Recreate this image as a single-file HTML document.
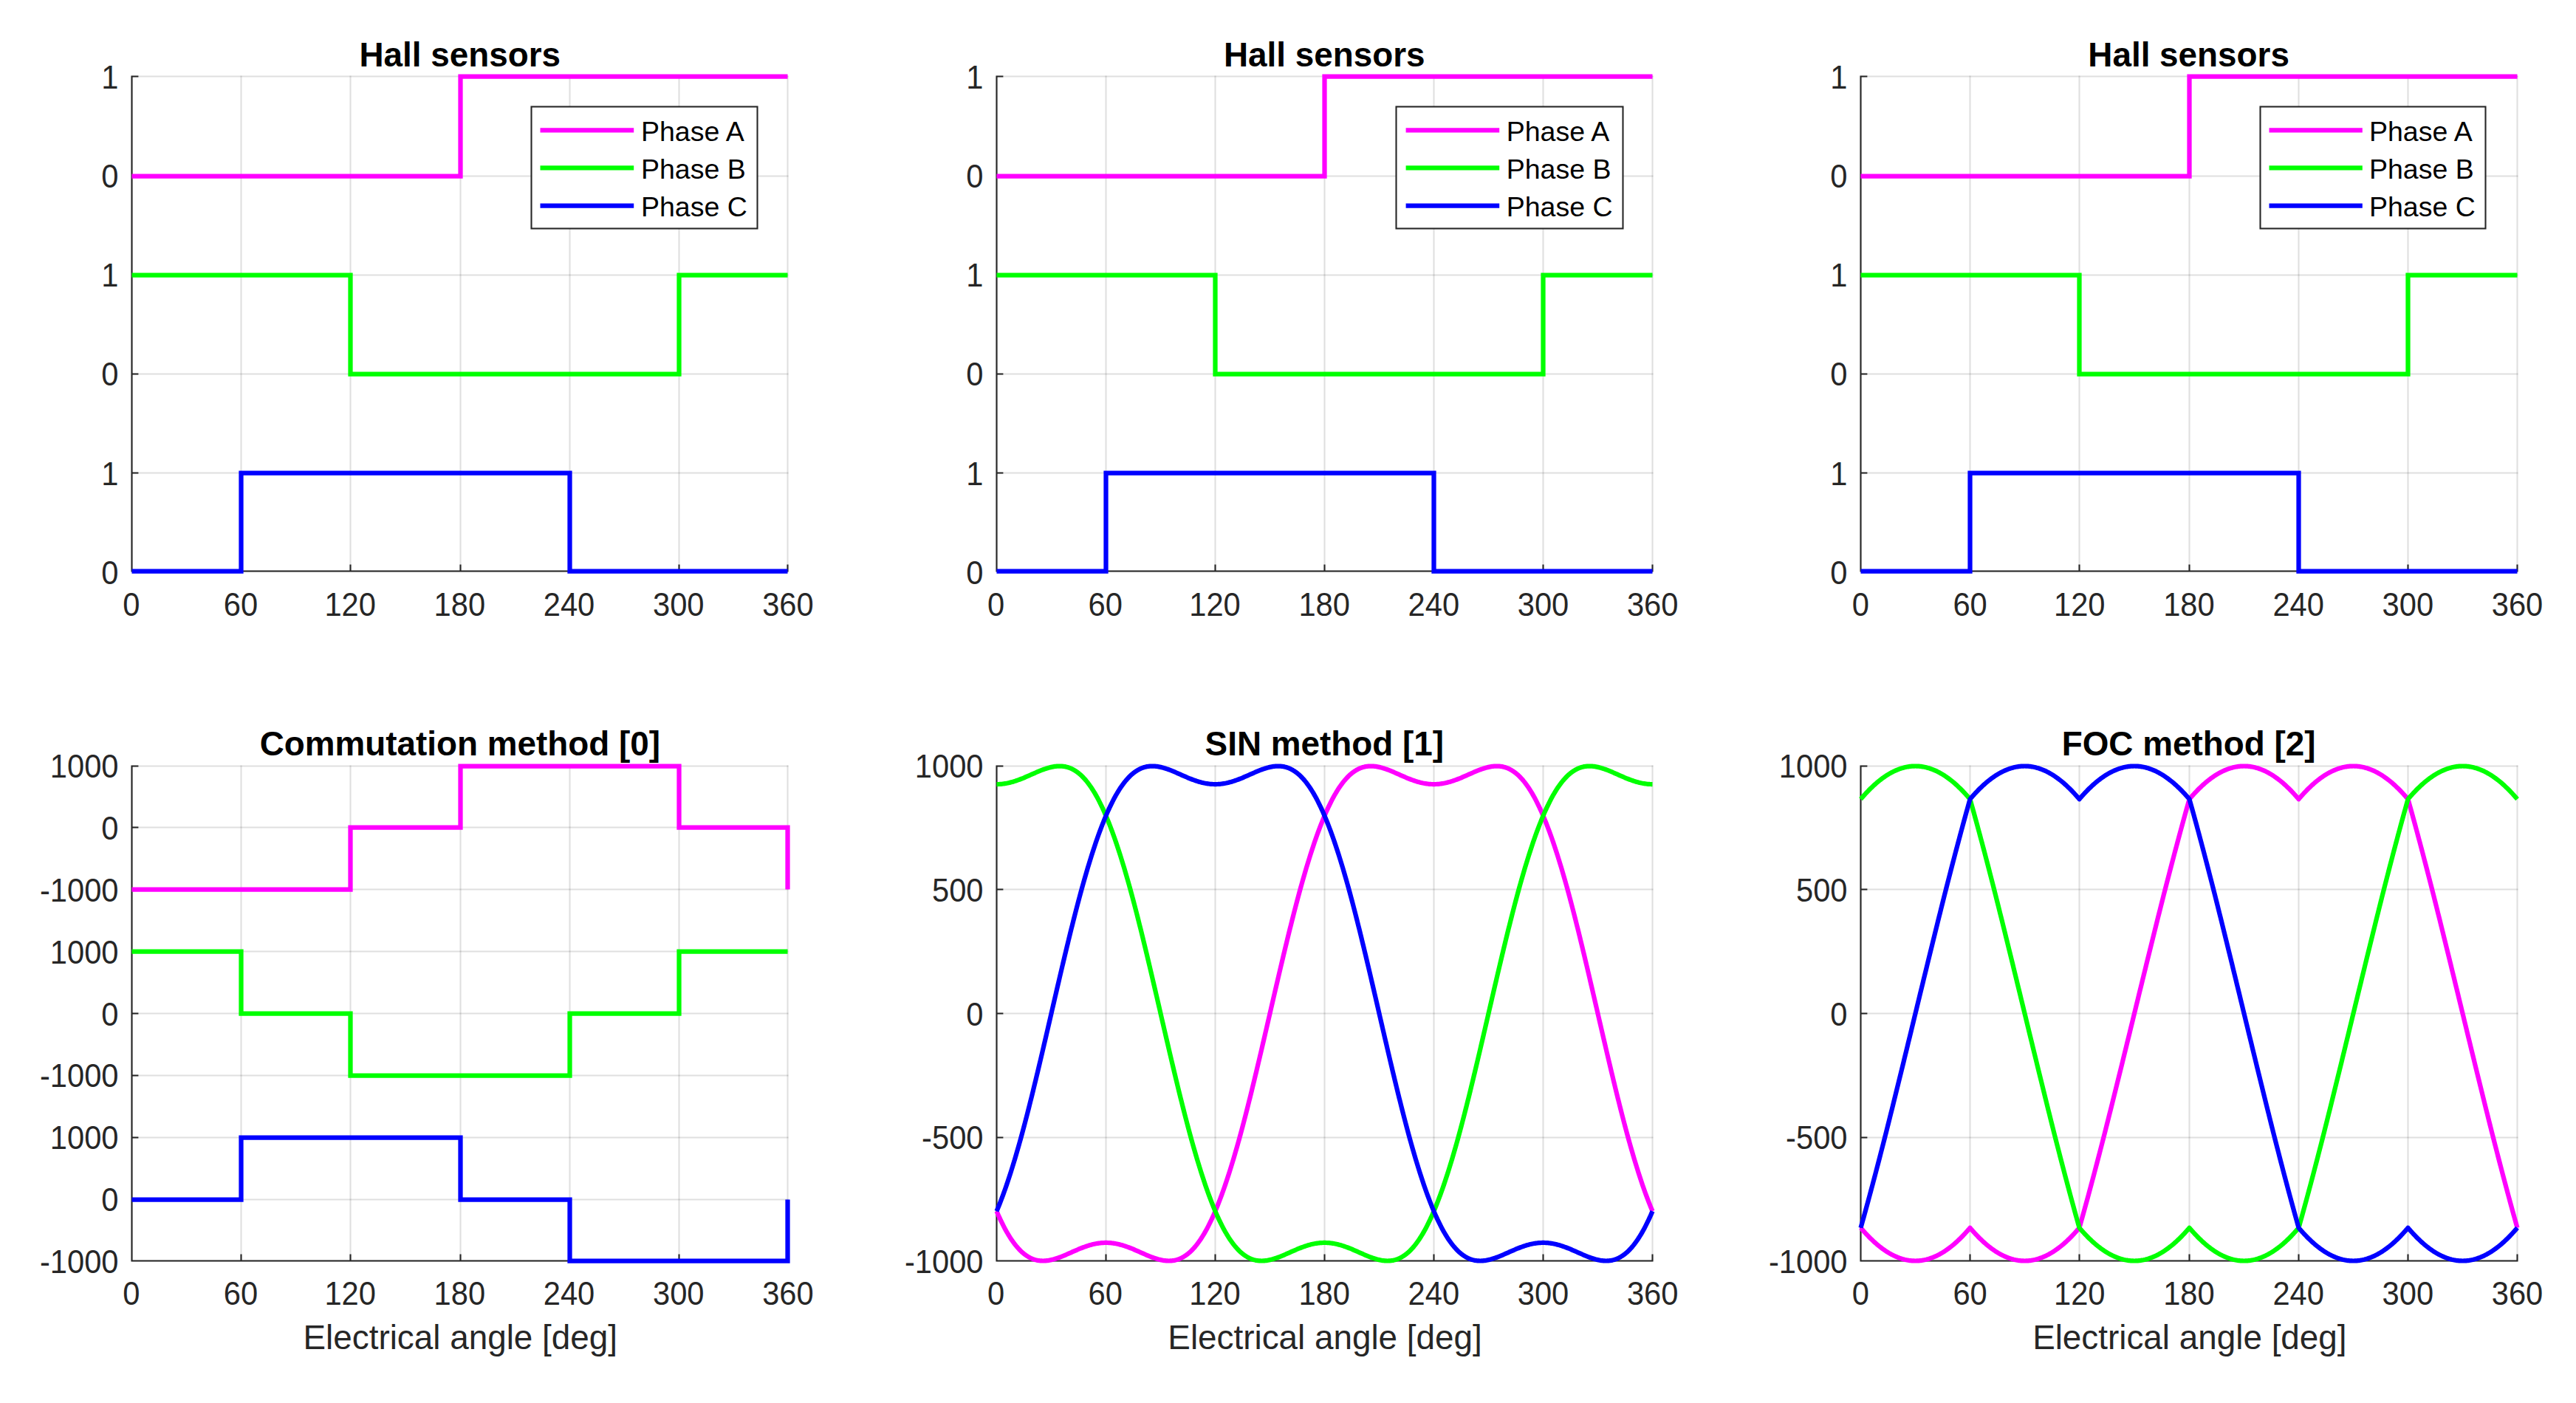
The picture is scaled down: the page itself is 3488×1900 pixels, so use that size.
<!DOCTYPE html>
<html lang="en"><head><meta charset="utf-8"><title>Hall sensors and control methods</title>
<style>html,body{margin:0;padding:0;background:#fff}body{width:3488px;height:1900px;overflow:hidden}svg{display:block}</style>
</head><body>
<svg width="3488" height="1900" viewBox="0 0 3488 1900" font-family="'Liberation Sans', sans-serif">
<rect width="3488" height="1900" fill="#fff"/>
<path d="M178.5 102.5V773.5M326.5 102.5V773.5M474.5 102.5V773.5M623.5 102.5V773.5M771.5 102.5V773.5M919.5 102.5V773.5M1066.5 102.5V773.5" stroke="#262626" stroke-opacity="0.15" stroke-width="2.08" fill="none"/>
<path d="M178.5 773.5H1067.5M178.5 640.5H1067.5M178.5 506.5H1067.5M178.5 372.5H1067.5M178.5 238.5H1067.5M178.5 103.5H1067.5" stroke="#262626" stroke-opacity="0.15" stroke-width="2.08" fill="none"/>
<path d="M178.5 102.5V773.5H1067.5M326.5 773.5V764.6M474.5 773.5V764.6M623.5 773.5V764.6M771.5 773.5V764.6M919.5 773.5V764.6M1066.5 773.5V764.6M178.5 640.5H187.4M178.5 506.5H187.4M178.5 372.5H187.4M178.5 238.5H187.4M178.5 103.5H187.4" stroke="#262626" stroke-width="2.08" fill="none" stroke-linejoin="miter"/>
<g font-size="41.67" fill="#262626">
<text transform="translate(177.8,834.17) scale(1,1.048)" text-anchor="middle">0</text>
<text transform="translate(325.98,834.17) scale(1,1.048)" text-anchor="middle">60</text>
<text transform="translate(474.17,834.17) scale(1,1.048)" text-anchor="middle">120</text>
<text transform="translate(622.35,834.17) scale(1,1.048)" text-anchor="middle">180</text>
<text transform="translate(770.53,834.17) scale(1,1.048)" text-anchor="middle">240</text>
<text transform="translate(918.72,834.17) scale(1,1.048)" text-anchor="middle">300</text>
<text transform="translate(1066.9,834.17) scale(1,1.048)" text-anchor="middle">360</text>
<text transform="translate(160.5,790.87) scale(1,1.048)" text-anchor="end">0</text>
<text transform="translate(160.5,656.67) scale(1,1.048)" text-anchor="end">1</text>
<text transform="translate(160.5,522.47) scale(1,1.048)" text-anchor="end">0</text>
<text transform="translate(160.5,388.27) scale(1,1.048)" text-anchor="end">1</text>
<text transform="translate(160.5,254.07) scale(1,1.048)" text-anchor="end">0</text>
<text transform="translate(160.5,119.87) scale(1,1.048)" text-anchor="end">1</text>
</g>
<text x="622.8" y="89.92" text-anchor="middle" font-size="45.83" font-weight="bold" fill="#000">Hall sensors</text>
<polyline points="178.5,238.5 623.5,238.5 623.5,103.5 1066.5,103.5" fill="none" stroke="#ff00ff" stroke-width="6.25" stroke-linejoin="miter" stroke-linecap="butt"/>
<polyline points="178.5,372.5 474.5,372.5 474.5,506.5 919.5,506.5 919.5,372.5 1066.5,372.5" fill="none" stroke="#00ff00" stroke-width="6.25" stroke-linejoin="miter" stroke-linecap="butt"/>
<polyline points="178.5,773.5 326.5,773.5 326.5,640.5 771.5,640.5 771.5,773.5 1066.5,773.5" fill="none" stroke="#0000ff" stroke-width="6.25" stroke-linejoin="miter" stroke-linecap="butt"/>
<rect x="719.5" y="144.5" width="306" height="165" fill="#fff" stroke="#262626" stroke-width="2.08"/>
<g font-size="37.5" fill="#000">
<path d="M731.5 176.3H858.2" stroke="#ff00ff" stroke-width="6.25"/>
<text x="868" y="191.2">Phase A</text>
<path d="M731.5 227.4H858.2" stroke="#00ff00" stroke-width="6.25"/>
<text x="868" y="242.3">Phase B</text>
<path d="M731.5 278.5H858.2" stroke="#0000ff" stroke-width="6.25"/>
<text x="868" y="293.4">Phase C</text>
</g>
<path d="M1349.5 102.5V773.5M1497.5 102.5V773.5M1645.5 102.5V773.5M1793.5 102.5V773.5M1941.5 102.5V773.5M2089.5 102.5V773.5M2237.5 102.5V773.5" stroke="#262626" stroke-opacity="0.15" stroke-width="2.08" fill="none"/>
<path d="M1349.5 773.5H2238.5M1349.5 640.5H2238.5M1349.5 506.5H2238.5M1349.5 372.5H2238.5M1349.5 238.5H2238.5M1349.5 103.5H2238.5" stroke="#262626" stroke-opacity="0.15" stroke-width="2.08" fill="none"/>
<path d="M1349.5 102.5V773.5H2238.5M1497.5 773.5V764.6M1645.5 773.5V764.6M1793.5 773.5V764.6M1941.5 773.5V764.6M2089.5 773.5V764.6M2237.5 773.5V764.6M1349.5 640.5H1358.4M1349.5 506.5H1358.4M1349.5 372.5H1358.4M1349.5 238.5H1358.4M1349.5 103.5H1358.4" stroke="#262626" stroke-width="2.08" fill="none" stroke-linejoin="miter"/>
<g font-size="41.67" fill="#262626">
<text transform="translate(1348.6,834.17) scale(1,1.048)" text-anchor="middle">0</text>
<text transform="translate(1496.78,834.17) scale(1,1.048)" text-anchor="middle">60</text>
<text transform="translate(1644.97,834.17) scale(1,1.048)" text-anchor="middle">120</text>
<text transform="translate(1793.15,834.17) scale(1,1.048)" text-anchor="middle">180</text>
<text transform="translate(1941.33,834.17) scale(1,1.048)" text-anchor="middle">240</text>
<text transform="translate(2089.52,834.17) scale(1,1.048)" text-anchor="middle">300</text>
<text transform="translate(2237.7,834.17) scale(1,1.048)" text-anchor="middle">360</text>
<text transform="translate(1331.5,790.87) scale(1,1.048)" text-anchor="end">0</text>
<text transform="translate(1331.5,656.67) scale(1,1.048)" text-anchor="end">1</text>
<text transform="translate(1331.5,522.47) scale(1,1.048)" text-anchor="end">0</text>
<text transform="translate(1331.5,388.27) scale(1,1.048)" text-anchor="end">1</text>
<text transform="translate(1331.5,254.07) scale(1,1.048)" text-anchor="end">0</text>
<text transform="translate(1331.5,119.87) scale(1,1.048)" text-anchor="end">1</text>
</g>
<text x="1793.3" y="89.92" text-anchor="middle" font-size="45.83" font-weight="bold" fill="#000">Hall sensors</text>
<polyline points="1349.5,238.5 1793.5,238.5 1793.5,103.5 2237.5,103.5" fill="none" stroke="#ff00ff" stroke-width="6.25" stroke-linejoin="miter" stroke-linecap="butt"/>
<polyline points="1349.5,372.5 1645.5,372.5 1645.5,506.5 2089.5,506.5 2089.5,372.5 2237.5,372.5" fill="none" stroke="#00ff00" stroke-width="6.25" stroke-linejoin="miter" stroke-linecap="butt"/>
<polyline points="1349.5,773.5 1497.5,773.5 1497.5,640.5 1941.5,640.5 1941.5,773.5 2237.5,773.5" fill="none" stroke="#0000ff" stroke-width="6.25" stroke-linejoin="miter" stroke-linecap="butt"/>
<rect x="1890.5" y="144.5" width="307" height="165" fill="#fff" stroke="#262626" stroke-width="2.08"/>
<g font-size="37.5" fill="#000">
<path d="M1903.6 176.3H2030.2" stroke="#ff00ff" stroke-width="6.25"/>
<text x="2039.7" y="191.2">Phase A</text>
<path d="M1903.6 227.4H2030.2" stroke="#00ff00" stroke-width="6.25"/>
<text x="2039.7" y="242.3">Phase B</text>
<path d="M1903.6 278.5H2030.2" stroke="#0000ff" stroke-width="6.25"/>
<text x="2039.7" y="293.4">Phase C</text>
</g>
<path d="M2519.5 102.5V773.5M2667.5 102.5V773.5M2815.5 102.5V773.5M2964.5 102.5V773.5M3112.5 102.5V773.5M3260.5 102.5V773.5M3408.5 102.5V773.5" stroke="#262626" stroke-opacity="0.15" stroke-width="2.08" fill="none"/>
<path d="M2519.5 773.5H3409.5M2519.5 640.5H3409.5M2519.5 506.5H3409.5M2519.5 372.5H3409.5M2519.5 238.5H3409.5M2519.5 103.5H3409.5" stroke="#262626" stroke-opacity="0.15" stroke-width="2.08" fill="none"/>
<path d="M2519.5 102.5V773.5H3409.5M2667.5 773.5V764.6M2815.5 773.5V764.6M2964.5 773.5V764.6M3112.5 773.5V764.6M3260.5 773.5V764.6M3408.5 773.5V764.6M2519.5 640.5H2528.4M2519.5 506.5H2528.4M2519.5 372.5H2528.4M2519.5 238.5H2528.4M2519.5 103.5H2528.4" stroke="#262626" stroke-width="2.08" fill="none" stroke-linejoin="miter"/>
<g font-size="41.67" fill="#262626">
<text transform="translate(2519.4,834.17) scale(1,1.048)" text-anchor="middle">0</text>
<text transform="translate(2667.58,834.17) scale(1,1.048)" text-anchor="middle">60</text>
<text transform="translate(2815.77,834.17) scale(1,1.048)" text-anchor="middle">120</text>
<text transform="translate(2963.95,834.17) scale(1,1.048)" text-anchor="middle">180</text>
<text transform="translate(3112.13,834.17) scale(1,1.048)" text-anchor="middle">240</text>
<text transform="translate(3260.32,834.17) scale(1,1.048)" text-anchor="middle">300</text>
<text transform="translate(3408.5,834.17) scale(1,1.048)" text-anchor="middle">360</text>
<text transform="translate(2501.5,790.87) scale(1,1.048)" text-anchor="end">0</text>
<text transform="translate(2501.5,656.67) scale(1,1.048)" text-anchor="end">1</text>
<text transform="translate(2501.5,522.47) scale(1,1.048)" text-anchor="end">0</text>
<text transform="translate(2501.5,388.27) scale(1,1.048)" text-anchor="end">1</text>
<text transform="translate(2501.5,254.07) scale(1,1.048)" text-anchor="end">0</text>
<text transform="translate(2501.5,119.87) scale(1,1.048)" text-anchor="end">1</text>
</g>
<text x="2963.6" y="89.92" text-anchor="middle" font-size="45.83" font-weight="bold" fill="#000">Hall sensors</text>
<polyline points="2519.5,238.5 2964.5,238.5 2964.5,103.5 3408.5,103.5" fill="none" stroke="#ff00ff" stroke-width="6.25" stroke-linejoin="miter" stroke-linecap="butt"/>
<polyline points="2519.5,372.5 2815.5,372.5 2815.5,506.5 3260.5,506.5 3260.5,372.5 3408.5,372.5" fill="none" stroke="#00ff00" stroke-width="6.25" stroke-linejoin="miter" stroke-linecap="butt"/>
<polyline points="2519.5,773.5 2667.5,773.5 2667.5,640.5 3112.5,640.5 3112.5,773.5 3408.5,773.5" fill="none" stroke="#0000ff" stroke-width="6.25" stroke-linejoin="miter" stroke-linecap="butt"/>
<rect x="3060.5" y="144.5" width="305" height="165" fill="#fff" stroke="#262626" stroke-width="2.08"/>
<g font-size="37.5" fill="#000">
<path d="M3072.5 176.3H3198.8" stroke="#ff00ff" stroke-width="6.25"/>
<text x="3208" y="191.2">Phase A</text>
<path d="M3072.5 227.4H3198.8" stroke="#00ff00" stroke-width="6.25"/>
<text x="3208" y="242.3">Phase B</text>
<path d="M3072.5 278.5H3198.8" stroke="#0000ff" stroke-width="6.25"/>
<text x="3208" y="293.4">Phase C</text>
</g>
<path d="M178.5 1036.5V1707.5M326.5 1036.5V1707.5M474.5 1036.5V1707.5M623.5 1036.5V1707.5M771.5 1036.5V1707.5M919.5 1036.5V1707.5M1066.5 1036.5V1707.5" stroke="#262626" stroke-opacity="0.15" stroke-width="2.08" fill="none"/>
<path d="M178.5 1707.5H1067.5M178.5 1624.5H1067.5M178.5 1540.5H1067.5M178.5 1456.5H1067.5M178.5 1372.5H1067.5M178.5 1288.5H1067.5M178.5 1204.5H1067.5M178.5 1120.5H1067.5M178.5 1037.5H1067.5" stroke="#262626" stroke-opacity="0.15" stroke-width="2.08" fill="none"/>
<path d="M178.5 1036.5V1707.5H1067.5M326.5 1707.5V1698.6M474.5 1707.5V1698.6M623.5 1707.5V1698.6M771.5 1707.5V1698.6M919.5 1707.5V1698.6M1066.5 1707.5V1698.6M178.5 1624.5H187.4M178.5 1540.5H187.4M178.5 1456.5H187.4M178.5 1372.5H187.4M178.5 1288.5H187.4M178.5 1204.5H187.4M178.5 1120.5H187.4M178.5 1037.5H187.4" stroke="#262626" stroke-width="2.08" fill="none" stroke-linejoin="miter"/>
<g font-size="41.67" fill="#262626">
<text transform="translate(177.8,1767.3) scale(1,1.048)" text-anchor="middle">0</text>
<text transform="translate(325.98,1767.3) scale(1,1.048)" text-anchor="middle">60</text>
<text transform="translate(474.17,1767.3) scale(1,1.048)" text-anchor="middle">120</text>
<text transform="translate(622.35,1767.3) scale(1,1.048)" text-anchor="middle">180</text>
<text transform="translate(770.53,1767.3) scale(1,1.048)" text-anchor="middle">240</text>
<text transform="translate(918.72,1767.3) scale(1,1.048)" text-anchor="middle">300</text>
<text transform="translate(1066.9,1767.3) scale(1,1.048)" text-anchor="middle">360</text>
<text transform="translate(160.5,1724) scale(1,1.048)" text-anchor="end">-1000</text>
<text transform="translate(160.5,1640.12) scale(1,1.048)" text-anchor="end">0</text>
<text transform="translate(160.5,1556.25) scale(1,1.048)" text-anchor="end">1000</text>
<text transform="translate(160.5,1472.38) scale(1,1.048)" text-anchor="end">-1000</text>
<text transform="translate(160.5,1388.5) scale(1,1.048)" text-anchor="end">0</text>
<text transform="translate(160.5,1304.62) scale(1,1.048)" text-anchor="end">1000</text>
<text transform="translate(160.5,1220.75) scale(1,1.048)" text-anchor="end">-1000</text>
<text transform="translate(160.5,1136.88) scale(1,1.048)" text-anchor="end">0</text>
<text transform="translate(160.5,1053) scale(1,1.048)" text-anchor="end">1000</text>
</g>
<text x="622.8" y="1023.05" text-anchor="middle" font-size="45.83" font-weight="bold" fill="#000">Commutation method [0]</text>
<text x="623.25" y="1827.1" text-anchor="middle" font-size="45.83" fill="#262626">Electrical angle [deg]</text>
<polyline points="178.5,1204.5 474.5,1204.5 474.5,1120.5 623.5,1120.5 623.5,1037.5 919.5,1037.5 919.5,1120.5 1066.5,1120.5 1066.5,1204.5" fill="none" stroke="#ff00ff" stroke-width="6.25" stroke-linejoin="miter" stroke-linecap="butt"/>
<polyline points="178.5,1288.5 326.5,1288.5 326.5,1372.5 474.5,1372.5 474.5,1456.5 771.5,1456.5 771.5,1372.5 919.5,1372.5 919.5,1288.5 1066.5,1288.5" fill="none" stroke="#00ff00" stroke-width="6.25" stroke-linejoin="miter" stroke-linecap="butt"/>
<polyline points="178.5,1624.5 326.5,1624.5 326.5,1540.5 623.5,1540.5 623.5,1624.5 771.5,1624.5 771.5,1707.5 1066.5,1707.5 1066.5,1624.5" fill="none" stroke="#0000ff" stroke-width="6.25" stroke-linejoin="miter" stroke-linecap="butt"/>
<path d="M1349.5 1036.5V1707.5M1497.5 1036.5V1707.5M1645.5 1036.5V1707.5M1793.5 1036.5V1707.5M1941.5 1036.5V1707.5M2089.5 1036.5V1707.5M2237.5 1036.5V1707.5" stroke="#262626" stroke-opacity="0.15" stroke-width="2.08" fill="none"/>
<path d="M1349.5 1707.5H2238.5M1349.5 1540.5H2238.5M1349.5 1372.5H2238.5M1349.5 1204.5H2238.5M1349.5 1037.5H2238.5" stroke="#262626" stroke-opacity="0.15" stroke-width="2.08" fill="none"/>
<path d="M1349.5 1036.5V1707.5H2238.5M1497.5 1707.5V1698.6M1645.5 1707.5V1698.6M1793.5 1707.5V1698.6M1941.5 1707.5V1698.6M2089.5 1707.5V1698.6M2237.5 1707.5V1698.6M1349.5 1540.5H1358.4M1349.5 1372.5H1358.4M1349.5 1204.5H1358.4M1349.5 1037.5H1358.4" stroke="#262626" stroke-width="2.08" fill="none" stroke-linejoin="miter"/>
<g font-size="41.67" fill="#262626">
<text transform="translate(1348.6,1767.3) scale(1,1.048)" text-anchor="middle">0</text>
<text transform="translate(1496.78,1767.3) scale(1,1.048)" text-anchor="middle">60</text>
<text transform="translate(1644.97,1767.3) scale(1,1.048)" text-anchor="middle">120</text>
<text transform="translate(1793.15,1767.3) scale(1,1.048)" text-anchor="middle">180</text>
<text transform="translate(1941.33,1767.3) scale(1,1.048)" text-anchor="middle">240</text>
<text transform="translate(2089.52,1767.3) scale(1,1.048)" text-anchor="middle">300</text>
<text transform="translate(2237.7,1767.3) scale(1,1.048)" text-anchor="middle">360</text>
<text transform="translate(1331.5,1724) scale(1,1.048)" text-anchor="end">-1000</text>
<text transform="translate(1331.5,1556.25) scale(1,1.048)" text-anchor="end">-500</text>
<text transform="translate(1331.5,1388.5) scale(1,1.048)" text-anchor="end">0</text>
<text transform="translate(1331.5,1220.75) scale(1,1.048)" text-anchor="end">500</text>
<text transform="translate(1331.5,1053) scale(1,1.048)" text-anchor="end">1000</text>
</g>
<text x="1793.3" y="1023.05" text-anchor="middle" font-size="45.83" font-weight="bold" fill="#000">SIN method [1]</text>
<text x="1794.05" y="1827.1" text-anchor="middle" font-size="45.83" fill="#262626">Electrical angle [deg]</text>
<polyline points="1349.5,1640.24 1350.73,1643.11 1351.97,1645.91 1353.2,1648.65 1354.43,1651.32 1355.67,1653.93 1356.9,1656.46 1358.13,1658.94 1359.37,1661.34 1360.6,1663.68 1361.83,1665.95 1363.07,1668.16 1364.3,1670.3 1365.53,1672.38 1366.77,1674.39 1368,1676.33 1369.23,1678.21 1370.47,1680.02 1371.7,1681.77 1372.93,1683.46 1374.17,1685.08 1375.4,1686.64 1376.63,1688.14 1377.87,1689.57 1379.1,1690.94 1380.33,1692.25 1381.57,1693.51 1382.8,1694.7 1384.03,1695.83 1385.27,1696.9 1386.5,1697.92 1387.73,1698.88 1388.97,1699.78 1390.2,1700.63 1391.43,1701.43 1392.67,1702.17 1393.9,1702.85 1395.13,1703.49 1396.37,1704.07 1397.6,1704.61 1398.83,1705.09 1400.07,1705.53 1401.3,1705.92 1402.53,1706.27 1403.77,1706.57 1405,1706.82 1406.23,1707.04 1407.47,1707.21 1408.7,1707.34 1409.93,1707.43 1411.17,1707.48 1412.4,1707.5 1413.63,1707.48 1414.87,1707.42 1416.1,1707.34 1417.33,1707.21 1418.57,1707.06 1419.8,1706.88 1421.03,1706.67 1422.27,1706.43 1423.5,1706.16 1424.73,1705.87 1425.97,1705.56 1427.2,1705.22 1428.43,1704.86 1429.67,1704.48 1430.9,1704.08 1432.13,1703.66 1433.37,1703.22 1434.6,1702.77 1435.83,1702.31 1437.07,1701.83 1438.3,1701.34 1439.53,1700.84 1440.77,1700.33 1442,1699.81 1443.23,1699.28 1444.47,1698.75 1445.7,1698.21 1446.93,1697.67 1448.17,1697.12 1449.4,1696.58 1450.63,1696.03 1451.87,1695.48 1453.1,1694.93 1454.33,1694.39 1455.57,1693.85 1456.8,1693.31 1458.03,1692.78 1459.27,1692.25 1460.5,1691.73 1461.73,1691.22 1462.97,1690.72 1464.2,1690.23 1465.43,1689.75 1466.67,1689.28 1467.9,1688.82 1469.13,1688.37 1470.37,1687.94 1471.6,1687.52 1472.83,1687.12 1474.07,1686.73 1475.3,1686.36 1476.53,1686.01 1477.77,1685.67 1479,1685.35 1480.23,1685.05 1481.47,1684.77 1482.7,1684.5 1483.93,1684.26 1485.17,1684.03 1486.4,1683.83 1487.63,1683.65 1488.87,1683.49 1490.1,1683.34 1491.33,1683.22 1492.57,1683.13 1493.8,1683.05 1495.03,1683 1496.27,1682.96 1497.5,1682.95 1498.73,1682.96 1499.97,1683 1501.2,1683.05 1502.43,1683.13 1503.67,1683.22 1504.9,1683.34 1506.13,1683.49 1507.37,1683.65 1508.6,1683.83 1509.83,1684.03 1511.07,1684.26 1512.3,1684.5 1513.53,1684.77 1514.77,1685.05 1516,1685.35 1517.23,1685.67 1518.47,1686.01 1519.7,1686.36 1520.93,1686.73 1522.17,1687.12 1523.4,1687.52 1524.63,1687.94 1525.87,1688.37 1527.1,1688.82 1528.33,1689.28 1529.57,1689.75 1530.8,1690.23 1532.03,1690.72 1533.27,1691.22 1534.5,1691.73 1535.73,1692.25 1536.97,1692.78 1538.2,1693.31 1539.43,1693.85 1540.67,1694.39 1541.9,1694.93 1543.13,1695.48 1544.37,1696.03 1545.6,1696.58 1546.83,1697.12 1548.07,1697.67 1549.3,1698.21 1550.53,1698.75 1551.77,1699.28 1553,1699.81 1554.23,1700.33 1555.47,1700.84 1556.7,1701.34 1557.93,1701.83 1559.17,1702.31 1560.4,1702.77 1561.63,1703.22 1562.87,1703.66 1564.1,1704.08 1565.33,1704.48 1566.57,1704.86 1567.8,1705.22 1569.03,1705.56 1570.27,1705.87 1571.5,1706.16 1572.73,1706.43 1573.97,1706.67 1575.2,1706.88 1576.43,1707.06 1577.67,1707.21 1578.9,1707.34 1580.13,1707.42 1581.37,1707.48 1582.6,1707.5 1583.83,1707.48 1585.07,1707.43 1586.3,1707.34 1587.53,1707.21 1588.77,1707.04 1590,1706.82 1591.23,1706.57 1592.47,1706.27 1593.7,1705.92 1594.93,1705.53 1596.17,1705.09 1597.4,1704.61 1598.63,1704.07 1599.87,1703.49 1601.1,1702.85 1602.33,1702.17 1603.57,1701.43 1604.8,1700.63 1606.03,1699.78 1607.27,1698.88 1608.5,1697.92 1609.73,1696.9 1610.97,1695.83 1612.2,1694.7 1613.43,1693.51 1614.67,1692.25 1615.9,1690.94 1617.13,1689.57 1618.37,1688.14 1619.6,1686.64 1620.83,1685.08 1622.07,1683.46 1623.3,1681.77 1624.53,1680.02 1625.77,1678.21 1627,1676.33 1628.23,1674.39 1629.47,1672.38 1630.7,1670.3 1631.93,1668.16 1633.17,1665.95 1634.4,1663.68 1635.63,1661.34 1636.87,1658.94 1638.1,1656.46 1639.33,1653.93 1640.57,1651.32 1641.8,1648.65 1643.03,1645.91 1644.27,1643.11 1645.5,1640.24 1646.73,1637.3 1647.97,1634.3 1649.2,1631.23 1650.43,1628.1 1651.67,1624.9 1652.9,1621.64 1654.13,1618.32 1655.37,1614.93 1656.6,1611.48 1657.83,1607.97 1659.07,1604.39 1660.3,1600.76 1661.53,1597.06 1662.77,1593.3 1664,1589.49 1665.23,1585.61 1666.47,1581.68 1667.7,1577.69 1668.93,1573.65 1670.17,1569.55 1671.4,1565.39 1672.63,1561.19 1673.87,1556.93 1675.1,1552.61 1676.33,1548.25 1677.57,1543.84 1678.8,1539.37 1680.03,1534.84 1681.27,1530.26 1682.5,1525.63 1683.73,1520.96 1684.97,1516.25 1686.2,1511.5 1687.43,1506.7 1688.67,1501.87 1689.9,1497 1691.13,1492.09 1692.37,1487.15 1693.6,1482.17 1694.83,1477.16 1696.07,1472.12 1697.3,1467.05 1698.53,1461.96 1699.77,1456.83 1701,1451.69 1702.23,1446.51 1703.47,1441.32 1704.7,1436.11 1705.93,1430.87 1707.17,1425.62 1708.4,1420.36 1709.63,1415.07 1710.87,1409.78 1712.1,1404.48 1713.33,1399.16 1714.57,1393.84 1715.8,1388.51 1717.03,1383.18 1718.27,1377.84 1719.5,1372.5 1720.73,1367.16 1721.97,1361.82 1723.2,1356.49 1724.43,1351.16 1725.67,1345.84 1726.9,1340.52 1728.13,1335.22 1729.37,1329.93 1730.6,1324.64 1731.83,1319.38 1733.07,1314.13 1734.3,1308.89 1735.53,1303.68 1736.77,1298.49 1738,1293.31 1739.23,1288.17 1740.47,1283.04 1741.7,1277.95 1742.93,1272.88 1744.17,1267.84 1745.4,1262.83 1746.63,1257.85 1747.87,1252.91 1749.1,1248 1750.33,1243.13 1751.57,1238.3 1752.8,1233.5 1754.03,1228.75 1755.27,1224.04 1756.5,1219.37 1757.73,1214.74 1758.97,1210.16 1760.2,1205.63 1761.43,1201.16 1762.67,1196.75 1763.9,1192.39 1765.13,1188.07 1766.37,1183.81 1767.6,1179.61 1768.83,1175.45 1770.07,1171.35 1771.3,1167.31 1772.53,1163.32 1773.77,1159.39 1775,1155.51 1776.23,1151.7 1777.47,1147.94 1778.7,1144.24 1779.93,1140.61 1781.17,1137.03 1782.4,1133.52 1783.63,1130.07 1784.87,1126.68 1786.1,1123.36 1787.33,1120.1 1788.57,1116.9 1789.8,1113.77 1791.03,1110.7 1792.27,1107.7 1793.5,1104.76 1794.73,1101.89 1795.97,1099.09 1797.2,1096.35 1798.43,1093.68 1799.67,1091.07 1800.9,1088.54 1802.13,1086.06 1803.37,1083.66 1804.6,1081.32 1805.83,1079.05 1807.07,1076.84 1808.3,1074.7 1809.53,1072.62 1810.77,1070.61 1812,1068.67 1813.23,1066.79 1814.47,1064.98 1815.7,1063.23 1816.93,1061.54 1818.17,1059.92 1819.4,1058.36 1820.63,1056.86 1821.87,1055.43 1823.1,1054.06 1824.33,1052.75 1825.57,1051.49 1826.8,1050.3 1828.03,1049.17 1829.27,1048.1 1830.5,1047.08 1831.73,1046.12 1832.97,1045.22 1834.2,1044.37 1835.43,1043.57 1836.67,1042.83 1837.9,1042.15 1839.13,1041.51 1840.37,1040.93 1841.6,1040.39 1842.83,1039.91 1844.07,1039.47 1845.3,1039.08 1846.53,1038.73 1847.77,1038.43 1849,1038.18 1850.23,1037.96 1851.47,1037.79 1852.7,1037.66 1853.93,1037.57 1855.17,1037.52 1856.4,1037.5 1857.63,1037.52 1858.87,1037.58 1860.1,1037.66 1861.33,1037.79 1862.57,1037.94 1863.8,1038.12 1865.03,1038.33 1866.27,1038.57 1867.5,1038.84 1868.73,1039.13 1869.97,1039.44 1871.2,1039.78 1872.43,1040.14 1873.67,1040.52 1874.9,1040.92 1876.13,1041.34 1877.37,1041.78 1878.6,1042.23 1879.83,1042.69 1881.07,1043.17 1882.3,1043.66 1883.53,1044.16 1884.77,1044.67 1886,1045.19 1887.23,1045.72 1888.47,1046.25 1889.7,1046.79 1890.93,1047.33 1892.17,1047.88 1893.4,1048.42 1894.63,1048.97 1895.87,1049.52 1897.1,1050.07 1898.33,1050.61 1899.57,1051.15 1900.8,1051.69 1902.03,1052.22 1903.27,1052.75 1904.5,1053.27 1905.73,1053.78 1906.97,1054.28 1908.2,1054.77 1909.43,1055.25 1910.67,1055.72 1911.9,1056.18 1913.13,1056.63 1914.37,1057.06 1915.6,1057.48 1916.83,1057.88 1918.07,1058.27 1919.3,1058.64 1920.53,1058.99 1921.77,1059.33 1923,1059.65 1924.23,1059.95 1925.47,1060.23 1926.7,1060.5 1927.93,1060.74 1929.17,1060.97 1930.4,1061.17 1931.63,1061.35 1932.87,1061.51 1934.1,1061.66 1935.33,1061.78 1936.57,1061.87 1937.8,1061.95 1939.03,1062 1940.27,1062.04 1941.5,1062.05 1942.73,1062.04 1943.97,1062 1945.2,1061.95 1946.43,1061.87 1947.67,1061.78 1948.9,1061.66 1950.13,1061.51 1951.37,1061.35 1952.6,1061.17 1953.83,1060.97 1955.07,1060.74 1956.3,1060.5 1957.53,1060.23 1958.77,1059.95 1960,1059.65 1961.23,1059.33 1962.47,1058.99 1963.7,1058.64 1964.93,1058.27 1966.17,1057.88 1967.4,1057.48 1968.63,1057.06 1969.87,1056.63 1971.1,1056.18 1972.33,1055.72 1973.57,1055.25 1974.8,1054.77 1976.03,1054.28 1977.27,1053.78 1978.5,1053.27 1979.73,1052.75 1980.97,1052.22 1982.2,1051.69 1983.43,1051.15 1984.67,1050.61 1985.9,1050.07 1987.13,1049.52 1988.37,1048.97 1989.6,1048.42 1990.83,1047.88 1992.07,1047.33 1993.3,1046.79 1994.53,1046.25 1995.77,1045.72 1997,1045.19 1998.23,1044.67 1999.47,1044.16 2000.7,1043.66 2001.93,1043.17 2003.17,1042.69 2004.4,1042.23 2005.63,1041.78 2006.87,1041.34 2008.1,1040.92 2009.33,1040.52 2010.57,1040.14 2011.8,1039.78 2013.03,1039.44 2014.27,1039.13 2015.5,1038.84 2016.73,1038.57 2017.97,1038.33 2019.2,1038.12 2020.43,1037.94 2021.67,1037.79 2022.9,1037.66 2024.13,1037.58 2025.37,1037.52 2026.6,1037.5 2027.83,1037.52 2029.07,1037.57 2030.3,1037.66 2031.53,1037.79 2032.77,1037.96 2034,1038.18 2035.23,1038.43 2036.47,1038.73 2037.7,1039.08 2038.93,1039.47 2040.17,1039.91 2041.4,1040.39 2042.63,1040.93 2043.87,1041.51 2045.1,1042.15 2046.33,1042.83 2047.57,1043.57 2048.8,1044.37 2050.03,1045.22 2051.27,1046.12 2052.5,1047.08 2053.73,1048.1 2054.97,1049.17 2056.2,1050.3 2057.43,1051.49 2058.67,1052.75 2059.9,1054.06 2061.13,1055.43 2062.37,1056.86 2063.6,1058.36 2064.83,1059.92 2066.07,1061.54 2067.3,1063.23 2068.53,1064.98 2069.77,1066.79 2071,1068.67 2072.23,1070.61 2073.47,1072.62 2074.7,1074.7 2075.93,1076.84 2077.17,1079.05 2078.4,1081.32 2079.63,1083.66 2080.87,1086.06 2082.1,1088.54 2083.33,1091.07 2084.57,1093.68 2085.8,1096.35 2087.03,1099.09 2088.27,1101.89 2089.5,1104.76 2090.73,1107.7 2091.97,1110.7 2093.2,1113.77 2094.43,1116.9 2095.67,1120.1 2096.9,1123.36 2098.13,1126.68 2099.37,1130.07 2100.6,1133.52 2101.83,1137.03 2103.07,1140.61 2104.3,1144.24 2105.53,1147.94 2106.77,1151.7 2108,1155.51 2109.23,1159.39 2110.47,1163.32 2111.7,1167.31 2112.93,1171.35 2114.17,1175.45 2115.4,1179.61 2116.63,1183.81 2117.87,1188.07 2119.1,1192.39 2120.33,1196.75 2121.57,1201.16 2122.8,1205.63 2124.03,1210.16 2125.27,1214.74 2126.5,1219.37 2127.73,1224.04 2128.97,1228.75 2130.2,1233.5 2131.43,1238.3 2132.67,1243.13 2133.9,1248 2135.13,1252.91 2136.37,1257.85 2137.6,1262.83 2138.83,1267.84 2140.07,1272.88 2141.3,1277.95 2142.53,1283.04 2143.77,1288.17 2145,1293.31 2146.23,1298.49 2147.47,1303.68 2148.7,1308.89 2149.93,1314.13 2151.17,1319.38 2152.4,1324.64 2153.63,1329.93 2154.87,1335.22 2156.1,1340.52 2157.33,1345.84 2158.57,1351.16 2159.8,1356.49 2161.03,1361.82 2162.27,1367.16 2163.5,1372.5 2164.73,1377.84 2165.97,1383.18 2167.2,1388.51 2168.43,1393.84 2169.67,1399.16 2170.9,1404.48 2172.13,1409.78 2173.37,1415.07 2174.6,1420.36 2175.83,1425.62 2177.07,1430.87 2178.3,1436.11 2179.53,1441.32 2180.77,1446.51 2182,1451.69 2183.23,1456.83 2184.47,1461.96 2185.7,1467.05 2186.93,1472.12 2188.17,1477.16 2189.4,1482.17 2190.63,1487.15 2191.87,1492.09 2193.1,1497 2194.33,1501.87 2195.57,1506.7 2196.8,1511.5 2198.03,1516.25 2199.27,1520.96 2200.5,1525.63 2201.73,1530.26 2202.97,1534.84 2204.2,1539.37 2205.43,1543.84 2206.67,1548.25 2207.9,1552.61 2209.13,1556.93 2210.37,1561.19 2211.6,1565.39 2212.83,1569.55 2214.07,1573.65 2215.3,1577.69 2216.53,1581.68 2217.77,1585.61 2219,1589.49 2220.23,1593.3 2221.47,1597.06 2222.7,1600.76 2223.93,1604.39 2225.17,1607.97 2226.4,1611.48 2227.63,1614.93 2228.87,1618.32 2230.1,1621.64 2231.33,1624.9 2232.57,1628.1 2233.8,1631.23 2235.03,1634.3 2236.27,1637.3 2237.5,1640.24" fill="none" stroke="#ff00ff" stroke-width="6.25" stroke-linejoin="round" stroke-linecap="butt"/>
<polyline points="1349.5,1062.05 1350.73,1062.04 1351.97,1062 1353.2,1061.95 1354.43,1061.87 1355.67,1061.78 1356.9,1061.66 1358.13,1061.51 1359.37,1061.35 1360.6,1061.17 1361.83,1060.97 1363.07,1060.74 1364.3,1060.5 1365.53,1060.23 1366.77,1059.95 1368,1059.65 1369.23,1059.33 1370.47,1058.99 1371.7,1058.64 1372.93,1058.27 1374.17,1057.88 1375.4,1057.48 1376.63,1057.06 1377.87,1056.63 1379.1,1056.18 1380.33,1055.72 1381.57,1055.25 1382.8,1054.77 1384.03,1054.28 1385.27,1053.78 1386.5,1053.27 1387.73,1052.75 1388.97,1052.22 1390.2,1051.69 1391.43,1051.15 1392.67,1050.61 1393.9,1050.07 1395.13,1049.52 1396.37,1048.97 1397.6,1048.42 1398.83,1047.88 1400.07,1047.33 1401.3,1046.79 1402.53,1046.25 1403.77,1045.72 1405,1045.19 1406.23,1044.67 1407.47,1044.16 1408.7,1043.66 1409.93,1043.17 1411.17,1042.69 1412.4,1042.23 1413.63,1041.78 1414.87,1041.34 1416.1,1040.92 1417.33,1040.52 1418.57,1040.14 1419.8,1039.78 1421.03,1039.44 1422.27,1039.13 1423.5,1038.84 1424.73,1038.57 1425.97,1038.33 1427.2,1038.12 1428.43,1037.94 1429.67,1037.79 1430.9,1037.66 1432.13,1037.58 1433.37,1037.52 1434.6,1037.5 1435.83,1037.52 1437.07,1037.57 1438.3,1037.66 1439.53,1037.79 1440.77,1037.96 1442,1038.18 1443.23,1038.43 1444.47,1038.73 1445.7,1039.08 1446.93,1039.47 1448.17,1039.91 1449.4,1040.39 1450.63,1040.93 1451.87,1041.51 1453.1,1042.15 1454.33,1042.83 1455.57,1043.57 1456.8,1044.37 1458.03,1045.22 1459.27,1046.12 1460.5,1047.08 1461.73,1048.1 1462.97,1049.17 1464.2,1050.3 1465.43,1051.49 1466.67,1052.75 1467.9,1054.06 1469.13,1055.43 1470.37,1056.86 1471.6,1058.36 1472.83,1059.92 1474.07,1061.54 1475.3,1063.23 1476.53,1064.98 1477.77,1066.79 1479,1068.67 1480.23,1070.61 1481.47,1072.62 1482.7,1074.7 1483.93,1076.84 1485.17,1079.05 1486.4,1081.32 1487.63,1083.66 1488.87,1086.06 1490.1,1088.54 1491.33,1091.07 1492.57,1093.68 1493.8,1096.35 1495.03,1099.09 1496.27,1101.89 1497.5,1104.76 1498.73,1107.7 1499.97,1110.7 1501.2,1113.77 1502.43,1116.9 1503.67,1120.1 1504.9,1123.36 1506.13,1126.68 1507.37,1130.07 1508.6,1133.52 1509.83,1137.03 1511.07,1140.61 1512.3,1144.24 1513.53,1147.94 1514.77,1151.7 1516,1155.51 1517.23,1159.39 1518.47,1163.32 1519.7,1167.31 1520.93,1171.35 1522.17,1175.45 1523.4,1179.61 1524.63,1183.81 1525.87,1188.07 1527.1,1192.39 1528.33,1196.75 1529.57,1201.16 1530.8,1205.63 1532.03,1210.16 1533.27,1214.74 1534.5,1219.37 1535.73,1224.04 1536.97,1228.75 1538.2,1233.5 1539.43,1238.3 1540.67,1243.13 1541.9,1248 1543.13,1252.91 1544.37,1257.85 1545.6,1262.83 1546.83,1267.84 1548.07,1272.88 1549.3,1277.95 1550.53,1283.04 1551.77,1288.17 1553,1293.31 1554.23,1298.49 1555.47,1303.68 1556.7,1308.89 1557.93,1314.13 1559.17,1319.38 1560.4,1324.64 1561.63,1329.93 1562.87,1335.22 1564.1,1340.52 1565.33,1345.84 1566.57,1351.16 1567.8,1356.49 1569.03,1361.82 1570.27,1367.16 1571.5,1372.5 1572.73,1377.84 1573.97,1383.18 1575.2,1388.51 1576.43,1393.84 1577.67,1399.16 1578.9,1404.48 1580.13,1409.78 1581.37,1415.07 1582.6,1420.36 1583.83,1425.62 1585.07,1430.87 1586.3,1436.11 1587.53,1441.32 1588.77,1446.51 1590,1451.69 1591.23,1456.83 1592.47,1461.96 1593.7,1467.05 1594.93,1472.12 1596.17,1477.16 1597.4,1482.17 1598.63,1487.15 1599.87,1492.09 1601.1,1497 1602.33,1501.87 1603.57,1506.7 1604.8,1511.5 1606.03,1516.25 1607.27,1520.96 1608.5,1525.63 1609.73,1530.26 1610.97,1534.84 1612.2,1539.37 1613.43,1543.84 1614.67,1548.25 1615.9,1552.61 1617.13,1556.93 1618.37,1561.19 1619.6,1565.39 1620.83,1569.55 1622.07,1573.65 1623.3,1577.69 1624.53,1581.68 1625.77,1585.61 1627,1589.49 1628.23,1593.3 1629.47,1597.06 1630.7,1600.76 1631.93,1604.39 1633.17,1607.97 1634.4,1611.48 1635.63,1614.93 1636.87,1618.32 1638.1,1621.64 1639.33,1624.9 1640.57,1628.1 1641.8,1631.23 1643.03,1634.3 1644.27,1637.3 1645.5,1640.24 1646.73,1643.11 1647.97,1645.91 1649.2,1648.65 1650.43,1651.32 1651.67,1653.93 1652.9,1656.46 1654.13,1658.94 1655.37,1661.34 1656.6,1663.68 1657.83,1665.95 1659.07,1668.16 1660.3,1670.3 1661.53,1672.38 1662.77,1674.39 1664,1676.33 1665.23,1678.21 1666.47,1680.02 1667.7,1681.77 1668.93,1683.46 1670.17,1685.08 1671.4,1686.64 1672.63,1688.14 1673.87,1689.57 1675.1,1690.94 1676.33,1692.25 1677.57,1693.51 1678.8,1694.7 1680.03,1695.83 1681.27,1696.9 1682.5,1697.92 1683.73,1698.88 1684.97,1699.78 1686.2,1700.63 1687.43,1701.43 1688.67,1702.17 1689.9,1702.85 1691.13,1703.49 1692.37,1704.07 1693.6,1704.61 1694.83,1705.09 1696.07,1705.53 1697.3,1705.92 1698.53,1706.27 1699.77,1706.57 1701,1706.82 1702.23,1707.04 1703.47,1707.21 1704.7,1707.34 1705.93,1707.43 1707.17,1707.48 1708.4,1707.5 1709.63,1707.48 1710.87,1707.42 1712.1,1707.34 1713.33,1707.21 1714.57,1707.06 1715.8,1706.88 1717.03,1706.67 1718.27,1706.43 1719.5,1706.16 1720.73,1705.87 1721.97,1705.56 1723.2,1705.22 1724.43,1704.86 1725.67,1704.48 1726.9,1704.08 1728.13,1703.66 1729.37,1703.22 1730.6,1702.77 1731.83,1702.31 1733.07,1701.83 1734.3,1701.34 1735.53,1700.84 1736.77,1700.33 1738,1699.81 1739.23,1699.28 1740.47,1698.75 1741.7,1698.21 1742.93,1697.67 1744.17,1697.12 1745.4,1696.58 1746.63,1696.03 1747.87,1695.48 1749.1,1694.93 1750.33,1694.39 1751.57,1693.85 1752.8,1693.31 1754.03,1692.78 1755.27,1692.25 1756.5,1691.73 1757.73,1691.22 1758.97,1690.72 1760.2,1690.23 1761.43,1689.75 1762.67,1689.28 1763.9,1688.82 1765.13,1688.37 1766.37,1687.94 1767.6,1687.52 1768.83,1687.12 1770.07,1686.73 1771.3,1686.36 1772.53,1686.01 1773.77,1685.67 1775,1685.35 1776.23,1685.05 1777.47,1684.77 1778.7,1684.5 1779.93,1684.26 1781.17,1684.03 1782.4,1683.83 1783.63,1683.65 1784.87,1683.49 1786.1,1683.34 1787.33,1683.22 1788.57,1683.13 1789.8,1683.05 1791.03,1683 1792.27,1682.96 1793.5,1682.95 1794.73,1682.96 1795.97,1683 1797.2,1683.05 1798.43,1683.13 1799.67,1683.22 1800.9,1683.34 1802.13,1683.49 1803.37,1683.65 1804.6,1683.83 1805.83,1684.03 1807.07,1684.26 1808.3,1684.5 1809.53,1684.77 1810.77,1685.05 1812,1685.35 1813.23,1685.67 1814.47,1686.01 1815.7,1686.36 1816.93,1686.73 1818.17,1687.12 1819.4,1687.52 1820.63,1687.94 1821.87,1688.37 1823.1,1688.82 1824.33,1689.28 1825.57,1689.75 1826.8,1690.23 1828.03,1690.72 1829.27,1691.22 1830.5,1691.73 1831.73,1692.25 1832.97,1692.78 1834.2,1693.31 1835.43,1693.85 1836.67,1694.39 1837.9,1694.93 1839.13,1695.48 1840.37,1696.03 1841.6,1696.58 1842.83,1697.12 1844.07,1697.67 1845.3,1698.21 1846.53,1698.75 1847.77,1699.28 1849,1699.81 1850.23,1700.33 1851.47,1700.84 1852.7,1701.34 1853.93,1701.83 1855.17,1702.31 1856.4,1702.77 1857.63,1703.22 1858.87,1703.66 1860.1,1704.08 1861.33,1704.48 1862.57,1704.86 1863.8,1705.22 1865.03,1705.56 1866.27,1705.87 1867.5,1706.16 1868.73,1706.43 1869.97,1706.67 1871.2,1706.88 1872.43,1707.06 1873.67,1707.21 1874.9,1707.34 1876.13,1707.42 1877.37,1707.48 1878.6,1707.5 1879.83,1707.48 1881.07,1707.43 1882.3,1707.34 1883.53,1707.21 1884.77,1707.04 1886,1706.82 1887.23,1706.57 1888.47,1706.27 1889.7,1705.92 1890.93,1705.53 1892.17,1705.09 1893.4,1704.61 1894.63,1704.07 1895.87,1703.49 1897.1,1702.85 1898.33,1702.17 1899.57,1701.43 1900.8,1700.63 1902.03,1699.78 1903.27,1698.88 1904.5,1697.92 1905.73,1696.9 1906.97,1695.83 1908.2,1694.7 1909.43,1693.51 1910.67,1692.25 1911.9,1690.94 1913.13,1689.57 1914.37,1688.14 1915.6,1686.64 1916.83,1685.08 1918.07,1683.46 1919.3,1681.77 1920.53,1680.02 1921.77,1678.21 1923,1676.33 1924.23,1674.39 1925.47,1672.38 1926.7,1670.3 1927.93,1668.16 1929.17,1665.95 1930.4,1663.68 1931.63,1661.34 1932.87,1658.94 1934.1,1656.46 1935.33,1653.93 1936.57,1651.32 1937.8,1648.65 1939.03,1645.91 1940.27,1643.11 1941.5,1640.24 1942.73,1637.3 1943.97,1634.3 1945.2,1631.23 1946.43,1628.1 1947.67,1624.9 1948.9,1621.64 1950.13,1618.32 1951.37,1614.93 1952.6,1611.48 1953.83,1607.97 1955.07,1604.39 1956.3,1600.76 1957.53,1597.06 1958.77,1593.3 1960,1589.49 1961.23,1585.61 1962.47,1581.68 1963.7,1577.69 1964.93,1573.65 1966.17,1569.55 1967.4,1565.39 1968.63,1561.19 1969.87,1556.93 1971.1,1552.61 1972.33,1548.25 1973.57,1543.84 1974.8,1539.37 1976.03,1534.84 1977.27,1530.26 1978.5,1525.63 1979.73,1520.96 1980.97,1516.25 1982.2,1511.5 1983.43,1506.7 1984.67,1501.87 1985.9,1497 1987.13,1492.09 1988.37,1487.15 1989.6,1482.17 1990.83,1477.16 1992.07,1472.12 1993.3,1467.05 1994.53,1461.96 1995.77,1456.83 1997,1451.69 1998.23,1446.51 1999.47,1441.32 2000.7,1436.11 2001.93,1430.87 2003.17,1425.62 2004.4,1420.36 2005.63,1415.07 2006.87,1409.78 2008.1,1404.48 2009.33,1399.16 2010.57,1393.84 2011.8,1388.51 2013.03,1383.18 2014.27,1377.84 2015.5,1372.5 2016.73,1367.16 2017.97,1361.82 2019.2,1356.49 2020.43,1351.16 2021.67,1345.84 2022.9,1340.52 2024.13,1335.22 2025.37,1329.93 2026.6,1324.64 2027.83,1319.38 2029.07,1314.13 2030.3,1308.89 2031.53,1303.68 2032.77,1298.49 2034,1293.31 2035.23,1288.17 2036.47,1283.04 2037.7,1277.95 2038.93,1272.88 2040.17,1267.84 2041.4,1262.83 2042.63,1257.85 2043.87,1252.91 2045.1,1248 2046.33,1243.13 2047.57,1238.3 2048.8,1233.5 2050.03,1228.75 2051.27,1224.04 2052.5,1219.37 2053.73,1214.74 2054.97,1210.16 2056.2,1205.63 2057.43,1201.16 2058.67,1196.75 2059.9,1192.39 2061.13,1188.07 2062.37,1183.81 2063.6,1179.61 2064.83,1175.45 2066.07,1171.35 2067.3,1167.31 2068.53,1163.32 2069.77,1159.39 2071,1155.51 2072.23,1151.7 2073.47,1147.94 2074.7,1144.24 2075.93,1140.61 2077.17,1137.03 2078.4,1133.52 2079.63,1130.07 2080.87,1126.68 2082.1,1123.36 2083.33,1120.1 2084.57,1116.9 2085.8,1113.77 2087.03,1110.7 2088.27,1107.7 2089.5,1104.76 2090.73,1101.89 2091.97,1099.09 2093.2,1096.35 2094.43,1093.68 2095.67,1091.07 2096.9,1088.54 2098.13,1086.06 2099.37,1083.66 2100.6,1081.32 2101.83,1079.05 2103.07,1076.84 2104.3,1074.7 2105.53,1072.62 2106.77,1070.61 2108,1068.67 2109.23,1066.79 2110.47,1064.98 2111.7,1063.23 2112.93,1061.54 2114.17,1059.92 2115.4,1058.36 2116.63,1056.86 2117.87,1055.43 2119.1,1054.06 2120.33,1052.75 2121.57,1051.49 2122.8,1050.3 2124.03,1049.17 2125.27,1048.1 2126.5,1047.08 2127.73,1046.12 2128.97,1045.22 2130.2,1044.37 2131.43,1043.57 2132.67,1042.83 2133.9,1042.15 2135.13,1041.51 2136.37,1040.93 2137.6,1040.39 2138.83,1039.91 2140.07,1039.47 2141.3,1039.08 2142.53,1038.73 2143.77,1038.43 2145,1038.18 2146.23,1037.96 2147.47,1037.79 2148.7,1037.66 2149.93,1037.57 2151.17,1037.52 2152.4,1037.5 2153.63,1037.52 2154.87,1037.58 2156.1,1037.66 2157.33,1037.79 2158.57,1037.94 2159.8,1038.12 2161.03,1038.33 2162.27,1038.57 2163.5,1038.84 2164.73,1039.13 2165.97,1039.44 2167.2,1039.78 2168.43,1040.14 2169.67,1040.52 2170.9,1040.92 2172.13,1041.34 2173.37,1041.78 2174.6,1042.23 2175.83,1042.69 2177.07,1043.17 2178.3,1043.66 2179.53,1044.16 2180.77,1044.67 2182,1045.19 2183.23,1045.72 2184.47,1046.25 2185.7,1046.79 2186.93,1047.33 2188.17,1047.88 2189.4,1048.42 2190.63,1048.97 2191.87,1049.52 2193.1,1050.07 2194.33,1050.61 2195.57,1051.15 2196.8,1051.69 2198.03,1052.22 2199.27,1052.75 2200.5,1053.27 2201.73,1053.78 2202.97,1054.28 2204.2,1054.77 2205.43,1055.25 2206.67,1055.72 2207.9,1056.18 2209.13,1056.63 2210.37,1057.06 2211.6,1057.48 2212.83,1057.88 2214.07,1058.27 2215.3,1058.64 2216.53,1058.99 2217.77,1059.33 2219,1059.65 2220.23,1059.95 2221.47,1060.23 2222.7,1060.5 2223.93,1060.74 2225.17,1060.97 2226.4,1061.17 2227.63,1061.35 2228.87,1061.51 2230.1,1061.66 2231.33,1061.78 2232.57,1061.87 2233.8,1061.95 2235.03,1062 2236.27,1062.04 2237.5,1062.05" fill="none" stroke="#00ff00" stroke-width="6.25" stroke-linejoin="round" stroke-linecap="butt"/>
<polyline points="1349.5,1640.24 1350.73,1637.3 1351.97,1634.3 1353.2,1631.23 1354.43,1628.1 1355.67,1624.9 1356.9,1621.64 1358.13,1618.32 1359.37,1614.93 1360.6,1611.48 1361.83,1607.97 1363.07,1604.39 1364.3,1600.76 1365.53,1597.06 1366.77,1593.3 1368,1589.49 1369.23,1585.61 1370.47,1581.68 1371.7,1577.69 1372.93,1573.65 1374.17,1569.55 1375.4,1565.39 1376.63,1561.19 1377.87,1556.93 1379.1,1552.61 1380.33,1548.25 1381.57,1543.84 1382.8,1539.37 1384.03,1534.84 1385.27,1530.26 1386.5,1525.63 1387.73,1520.96 1388.97,1516.25 1390.2,1511.5 1391.43,1506.7 1392.67,1501.87 1393.9,1497 1395.13,1492.09 1396.37,1487.15 1397.6,1482.17 1398.83,1477.16 1400.07,1472.12 1401.3,1467.05 1402.53,1461.96 1403.77,1456.83 1405,1451.69 1406.23,1446.51 1407.47,1441.32 1408.7,1436.11 1409.93,1430.87 1411.17,1425.62 1412.4,1420.36 1413.63,1415.07 1414.87,1409.78 1416.1,1404.48 1417.33,1399.16 1418.57,1393.84 1419.8,1388.51 1421.03,1383.18 1422.27,1377.84 1423.5,1372.5 1424.73,1367.16 1425.97,1361.82 1427.2,1356.49 1428.43,1351.16 1429.67,1345.84 1430.9,1340.52 1432.13,1335.22 1433.37,1329.93 1434.6,1324.64 1435.83,1319.38 1437.07,1314.13 1438.3,1308.89 1439.53,1303.68 1440.77,1298.49 1442,1293.31 1443.23,1288.17 1444.47,1283.04 1445.7,1277.95 1446.93,1272.88 1448.17,1267.84 1449.4,1262.83 1450.63,1257.85 1451.87,1252.91 1453.1,1248 1454.33,1243.13 1455.57,1238.3 1456.8,1233.5 1458.03,1228.75 1459.27,1224.04 1460.5,1219.37 1461.73,1214.74 1462.97,1210.16 1464.2,1205.63 1465.43,1201.16 1466.67,1196.75 1467.9,1192.39 1469.13,1188.07 1470.37,1183.81 1471.6,1179.61 1472.83,1175.45 1474.07,1171.35 1475.3,1167.31 1476.53,1163.32 1477.77,1159.39 1479,1155.51 1480.23,1151.7 1481.47,1147.94 1482.7,1144.24 1483.93,1140.61 1485.17,1137.03 1486.4,1133.52 1487.63,1130.07 1488.87,1126.68 1490.1,1123.36 1491.33,1120.1 1492.57,1116.9 1493.8,1113.77 1495.03,1110.7 1496.27,1107.7 1497.5,1104.76 1498.73,1101.89 1499.97,1099.09 1501.2,1096.35 1502.43,1093.68 1503.67,1091.07 1504.9,1088.54 1506.13,1086.06 1507.37,1083.66 1508.6,1081.32 1509.83,1079.05 1511.07,1076.84 1512.3,1074.7 1513.53,1072.62 1514.77,1070.61 1516,1068.67 1517.23,1066.79 1518.47,1064.98 1519.7,1063.23 1520.93,1061.54 1522.17,1059.92 1523.4,1058.36 1524.63,1056.86 1525.87,1055.43 1527.1,1054.06 1528.33,1052.75 1529.57,1051.49 1530.8,1050.3 1532.03,1049.17 1533.27,1048.1 1534.5,1047.08 1535.73,1046.12 1536.97,1045.22 1538.2,1044.37 1539.43,1043.57 1540.67,1042.83 1541.9,1042.15 1543.13,1041.51 1544.37,1040.93 1545.6,1040.39 1546.83,1039.91 1548.07,1039.47 1549.3,1039.08 1550.53,1038.73 1551.77,1038.43 1553,1038.18 1554.23,1037.96 1555.47,1037.79 1556.7,1037.66 1557.93,1037.57 1559.17,1037.52 1560.4,1037.5 1561.63,1037.52 1562.87,1037.58 1564.1,1037.66 1565.33,1037.79 1566.57,1037.94 1567.8,1038.12 1569.03,1038.33 1570.27,1038.57 1571.5,1038.84 1572.73,1039.13 1573.97,1039.44 1575.2,1039.78 1576.43,1040.14 1577.67,1040.52 1578.9,1040.92 1580.13,1041.34 1581.37,1041.78 1582.6,1042.23 1583.83,1042.69 1585.07,1043.17 1586.3,1043.66 1587.53,1044.16 1588.77,1044.67 1590,1045.19 1591.23,1045.72 1592.47,1046.25 1593.7,1046.79 1594.93,1047.33 1596.17,1047.88 1597.4,1048.42 1598.63,1048.97 1599.87,1049.52 1601.1,1050.07 1602.33,1050.61 1603.57,1051.15 1604.8,1051.69 1606.03,1052.22 1607.27,1052.75 1608.5,1053.27 1609.73,1053.78 1610.97,1054.28 1612.2,1054.77 1613.43,1055.25 1614.67,1055.72 1615.9,1056.18 1617.13,1056.63 1618.37,1057.06 1619.6,1057.48 1620.83,1057.88 1622.07,1058.27 1623.3,1058.64 1624.53,1058.99 1625.77,1059.33 1627,1059.65 1628.23,1059.95 1629.47,1060.23 1630.7,1060.5 1631.93,1060.74 1633.17,1060.97 1634.4,1061.17 1635.63,1061.35 1636.87,1061.51 1638.1,1061.66 1639.33,1061.78 1640.57,1061.87 1641.8,1061.95 1643.03,1062 1644.27,1062.04 1645.5,1062.05 1646.73,1062.04 1647.97,1062 1649.2,1061.95 1650.43,1061.87 1651.67,1061.78 1652.9,1061.66 1654.13,1061.51 1655.37,1061.35 1656.6,1061.17 1657.83,1060.97 1659.07,1060.74 1660.3,1060.5 1661.53,1060.23 1662.77,1059.95 1664,1059.65 1665.23,1059.33 1666.47,1058.99 1667.7,1058.64 1668.93,1058.27 1670.17,1057.88 1671.4,1057.48 1672.63,1057.06 1673.87,1056.63 1675.1,1056.18 1676.33,1055.72 1677.57,1055.25 1678.8,1054.77 1680.03,1054.28 1681.27,1053.78 1682.5,1053.27 1683.73,1052.75 1684.97,1052.22 1686.2,1051.69 1687.43,1051.15 1688.67,1050.61 1689.9,1050.07 1691.13,1049.52 1692.37,1048.97 1693.6,1048.42 1694.83,1047.88 1696.07,1047.33 1697.3,1046.79 1698.53,1046.25 1699.77,1045.72 1701,1045.19 1702.23,1044.67 1703.47,1044.16 1704.7,1043.66 1705.93,1043.17 1707.17,1042.69 1708.4,1042.23 1709.63,1041.78 1710.87,1041.34 1712.1,1040.92 1713.33,1040.52 1714.57,1040.14 1715.8,1039.78 1717.03,1039.44 1718.27,1039.13 1719.5,1038.84 1720.73,1038.57 1721.97,1038.33 1723.2,1038.12 1724.43,1037.94 1725.67,1037.79 1726.9,1037.66 1728.13,1037.58 1729.37,1037.52 1730.6,1037.5 1731.83,1037.52 1733.07,1037.57 1734.3,1037.66 1735.53,1037.79 1736.77,1037.96 1738,1038.18 1739.23,1038.43 1740.47,1038.73 1741.7,1039.08 1742.93,1039.47 1744.17,1039.91 1745.4,1040.39 1746.63,1040.93 1747.87,1041.51 1749.1,1042.15 1750.33,1042.83 1751.57,1043.57 1752.8,1044.37 1754.03,1045.22 1755.27,1046.12 1756.5,1047.08 1757.73,1048.1 1758.97,1049.17 1760.2,1050.3 1761.43,1051.49 1762.67,1052.75 1763.9,1054.06 1765.13,1055.43 1766.37,1056.86 1767.6,1058.36 1768.83,1059.92 1770.07,1061.54 1771.3,1063.23 1772.53,1064.98 1773.77,1066.79 1775,1068.67 1776.23,1070.61 1777.47,1072.62 1778.7,1074.7 1779.93,1076.84 1781.17,1079.05 1782.4,1081.32 1783.63,1083.66 1784.87,1086.06 1786.1,1088.54 1787.33,1091.07 1788.57,1093.68 1789.8,1096.35 1791.03,1099.09 1792.27,1101.89 1793.5,1104.76 1794.73,1107.7 1795.97,1110.7 1797.2,1113.77 1798.43,1116.9 1799.67,1120.1 1800.9,1123.36 1802.13,1126.68 1803.37,1130.07 1804.6,1133.52 1805.83,1137.03 1807.07,1140.61 1808.3,1144.24 1809.53,1147.94 1810.77,1151.7 1812,1155.51 1813.23,1159.39 1814.47,1163.32 1815.7,1167.31 1816.93,1171.35 1818.17,1175.45 1819.4,1179.61 1820.63,1183.81 1821.87,1188.07 1823.1,1192.39 1824.33,1196.75 1825.57,1201.16 1826.8,1205.63 1828.03,1210.16 1829.27,1214.74 1830.5,1219.37 1831.73,1224.04 1832.97,1228.75 1834.2,1233.5 1835.43,1238.3 1836.67,1243.13 1837.9,1248 1839.13,1252.91 1840.37,1257.85 1841.6,1262.83 1842.83,1267.84 1844.07,1272.88 1845.3,1277.95 1846.53,1283.04 1847.77,1288.17 1849,1293.31 1850.23,1298.49 1851.47,1303.68 1852.7,1308.89 1853.93,1314.13 1855.17,1319.38 1856.4,1324.64 1857.63,1329.93 1858.87,1335.22 1860.1,1340.52 1861.33,1345.84 1862.57,1351.16 1863.8,1356.49 1865.03,1361.82 1866.27,1367.16 1867.5,1372.5 1868.73,1377.84 1869.97,1383.18 1871.2,1388.51 1872.43,1393.84 1873.67,1399.16 1874.9,1404.48 1876.13,1409.78 1877.37,1415.07 1878.6,1420.36 1879.83,1425.62 1881.07,1430.87 1882.3,1436.11 1883.53,1441.32 1884.77,1446.51 1886,1451.69 1887.23,1456.83 1888.47,1461.96 1889.7,1467.05 1890.93,1472.12 1892.17,1477.16 1893.4,1482.17 1894.63,1487.15 1895.87,1492.09 1897.1,1497 1898.33,1501.87 1899.57,1506.7 1900.8,1511.5 1902.03,1516.25 1903.27,1520.96 1904.5,1525.63 1905.73,1530.26 1906.97,1534.84 1908.2,1539.37 1909.43,1543.84 1910.67,1548.25 1911.9,1552.61 1913.13,1556.93 1914.37,1561.19 1915.6,1565.39 1916.83,1569.55 1918.07,1573.65 1919.3,1577.69 1920.53,1581.68 1921.77,1585.61 1923,1589.49 1924.23,1593.3 1925.47,1597.06 1926.7,1600.76 1927.93,1604.39 1929.17,1607.97 1930.4,1611.48 1931.63,1614.93 1932.87,1618.32 1934.1,1621.64 1935.33,1624.9 1936.57,1628.1 1937.8,1631.23 1939.03,1634.3 1940.27,1637.3 1941.5,1640.24 1942.73,1643.11 1943.97,1645.91 1945.2,1648.65 1946.43,1651.32 1947.67,1653.93 1948.9,1656.46 1950.13,1658.94 1951.37,1661.34 1952.6,1663.68 1953.83,1665.95 1955.07,1668.16 1956.3,1670.3 1957.53,1672.38 1958.77,1674.39 1960,1676.33 1961.23,1678.21 1962.47,1680.02 1963.7,1681.77 1964.93,1683.46 1966.17,1685.08 1967.4,1686.64 1968.63,1688.14 1969.87,1689.57 1971.1,1690.94 1972.33,1692.25 1973.57,1693.51 1974.8,1694.7 1976.03,1695.83 1977.27,1696.9 1978.5,1697.92 1979.73,1698.88 1980.97,1699.78 1982.2,1700.63 1983.43,1701.43 1984.67,1702.17 1985.9,1702.85 1987.13,1703.49 1988.37,1704.07 1989.6,1704.61 1990.83,1705.09 1992.07,1705.53 1993.3,1705.92 1994.53,1706.27 1995.77,1706.57 1997,1706.82 1998.23,1707.04 1999.47,1707.21 2000.7,1707.34 2001.93,1707.43 2003.17,1707.48 2004.4,1707.5 2005.63,1707.48 2006.87,1707.42 2008.1,1707.34 2009.33,1707.21 2010.57,1707.06 2011.8,1706.88 2013.03,1706.67 2014.27,1706.43 2015.5,1706.16 2016.73,1705.87 2017.97,1705.56 2019.2,1705.22 2020.43,1704.86 2021.67,1704.48 2022.9,1704.08 2024.13,1703.66 2025.37,1703.22 2026.6,1702.77 2027.83,1702.31 2029.07,1701.83 2030.3,1701.34 2031.53,1700.84 2032.77,1700.33 2034,1699.81 2035.23,1699.28 2036.47,1698.75 2037.7,1698.21 2038.93,1697.67 2040.17,1697.12 2041.4,1696.58 2042.63,1696.03 2043.87,1695.48 2045.1,1694.93 2046.33,1694.39 2047.57,1693.85 2048.8,1693.31 2050.03,1692.78 2051.27,1692.25 2052.5,1691.73 2053.73,1691.22 2054.97,1690.72 2056.2,1690.23 2057.43,1689.75 2058.67,1689.28 2059.9,1688.82 2061.13,1688.37 2062.37,1687.94 2063.6,1687.52 2064.83,1687.12 2066.07,1686.73 2067.3,1686.36 2068.53,1686.01 2069.77,1685.67 2071,1685.35 2072.23,1685.05 2073.47,1684.77 2074.7,1684.5 2075.93,1684.26 2077.17,1684.03 2078.4,1683.83 2079.63,1683.65 2080.87,1683.49 2082.1,1683.34 2083.33,1683.22 2084.57,1683.13 2085.8,1683.05 2087.03,1683 2088.27,1682.96 2089.5,1682.95 2090.73,1682.96 2091.97,1683 2093.2,1683.05 2094.43,1683.13 2095.67,1683.22 2096.9,1683.34 2098.13,1683.49 2099.37,1683.65 2100.6,1683.83 2101.83,1684.03 2103.07,1684.26 2104.3,1684.5 2105.53,1684.77 2106.77,1685.05 2108,1685.35 2109.23,1685.67 2110.47,1686.01 2111.7,1686.36 2112.93,1686.73 2114.17,1687.12 2115.4,1687.52 2116.63,1687.94 2117.87,1688.37 2119.1,1688.82 2120.33,1689.28 2121.57,1689.75 2122.8,1690.23 2124.03,1690.72 2125.27,1691.22 2126.5,1691.73 2127.73,1692.25 2128.97,1692.78 2130.2,1693.31 2131.43,1693.85 2132.67,1694.39 2133.9,1694.93 2135.13,1695.48 2136.37,1696.03 2137.6,1696.58 2138.83,1697.12 2140.07,1697.67 2141.3,1698.21 2142.53,1698.75 2143.77,1699.28 2145,1699.81 2146.23,1700.33 2147.47,1700.84 2148.7,1701.34 2149.93,1701.83 2151.17,1702.31 2152.4,1702.77 2153.63,1703.22 2154.87,1703.66 2156.1,1704.08 2157.33,1704.48 2158.57,1704.86 2159.8,1705.22 2161.03,1705.56 2162.27,1705.87 2163.5,1706.16 2164.73,1706.43 2165.97,1706.67 2167.2,1706.88 2168.43,1707.06 2169.67,1707.21 2170.9,1707.34 2172.13,1707.42 2173.37,1707.48 2174.6,1707.5 2175.83,1707.48 2177.07,1707.43 2178.3,1707.34 2179.53,1707.21 2180.77,1707.04 2182,1706.82 2183.23,1706.57 2184.47,1706.27 2185.7,1705.92 2186.93,1705.53 2188.17,1705.09 2189.4,1704.61 2190.63,1704.07 2191.87,1703.49 2193.1,1702.85 2194.33,1702.17 2195.57,1701.43 2196.8,1700.63 2198.03,1699.78 2199.27,1698.88 2200.5,1697.92 2201.73,1696.9 2202.97,1695.83 2204.2,1694.7 2205.43,1693.51 2206.67,1692.25 2207.9,1690.94 2209.13,1689.57 2210.37,1688.14 2211.6,1686.64 2212.83,1685.08 2214.07,1683.46 2215.3,1681.77 2216.53,1680.02 2217.77,1678.21 2219,1676.33 2220.23,1674.39 2221.47,1672.38 2222.7,1670.3 2223.93,1668.16 2225.17,1665.95 2226.4,1663.68 2227.63,1661.34 2228.87,1658.94 2230.1,1656.46 2231.33,1653.93 2232.57,1651.32 2233.8,1648.65 2235.03,1645.91 2236.27,1643.11 2237.5,1640.24" fill="none" stroke="#0000ff" stroke-width="6.25" stroke-linejoin="round" stroke-linecap="butt"/>
<path d="M2519.5 1036.5V1707.5M2667.5 1036.5V1707.5M2815.5 1036.5V1707.5M2964.5 1036.5V1707.5M3112.5 1036.5V1707.5M3260.5 1036.5V1707.5M3408.5 1036.5V1707.5" stroke="#262626" stroke-opacity="0.15" stroke-width="2.08" fill="none"/>
<path d="M2519.5 1707.5H3409.5M2519.5 1540.5H3409.5M2519.5 1372.5H3409.5M2519.5 1204.5H3409.5M2519.5 1037.5H3409.5" stroke="#262626" stroke-opacity="0.15" stroke-width="2.08" fill="none"/>
<path d="M2519.5 1036.5V1707.5H3409.5M2667.5 1707.5V1698.6M2815.5 1707.5V1698.6M2964.5 1707.5V1698.6M3112.5 1707.5V1698.6M3260.5 1707.5V1698.6M3408.5 1707.5V1698.6M2519.5 1540.5H2528.4M2519.5 1372.5H2528.4M2519.5 1204.5H2528.4M2519.5 1037.5H2528.4" stroke="#262626" stroke-width="2.08" fill="none" stroke-linejoin="miter"/>
<g font-size="41.67" fill="#262626">
<text transform="translate(2519.4,1767.3) scale(1,1.048)" text-anchor="middle">0</text>
<text transform="translate(2667.58,1767.3) scale(1,1.048)" text-anchor="middle">60</text>
<text transform="translate(2815.77,1767.3) scale(1,1.048)" text-anchor="middle">120</text>
<text transform="translate(2963.95,1767.3) scale(1,1.048)" text-anchor="middle">180</text>
<text transform="translate(3112.13,1767.3) scale(1,1.048)" text-anchor="middle">240</text>
<text transform="translate(3260.32,1767.3) scale(1,1.048)" text-anchor="middle">300</text>
<text transform="translate(3408.5,1767.3) scale(1,1.048)" text-anchor="middle">360</text>
<text transform="translate(2501.5,1724) scale(1,1.048)" text-anchor="end">-1000</text>
<text transform="translate(2501.5,1556.25) scale(1,1.048)" text-anchor="end">-500</text>
<text transform="translate(2501.5,1388.5) scale(1,1.048)" text-anchor="end">0</text>
<text transform="translate(2501.5,1220.75) scale(1,1.048)" text-anchor="end">500</text>
<text transform="translate(2501.5,1053) scale(1,1.048)" text-anchor="end">1000</text>
</g>
<text x="2963.6" y="1023.05" text-anchor="middle" font-size="45.83" font-weight="bold" fill="#000">FOC method [2]</text>
<text x="2964.85" y="1827.1" text-anchor="middle" font-size="45.83" fill="#262626">Electrical angle [deg]</text>
<polyline points="2519.5,1662.75 2520.73,1664.2 2521.97,1665.62 2523.2,1667.02 2524.43,1668.4 2525.67,1669.76 2526.9,1671.1 2528.13,1672.41 2529.37,1673.7 2530.6,1674.96 2531.83,1676.21 2533.07,1677.43 2534.3,1678.62 2535.53,1679.8 2536.77,1680.95 2538,1682.08 2539.23,1683.18 2540.47,1684.26 2541.7,1685.32 2542.93,1686.35 2544.17,1687.36 2545.4,1688.34 2546.63,1689.3 2547.87,1690.24 2549.1,1691.15 2550.33,1692.04 2551.57,1692.91 2552.8,1693.75 2554.03,1694.56 2555.27,1695.35 2556.5,1696.12 2557.73,1696.86 2558.97,1697.58 2560.2,1698.27 2561.43,1698.94 2562.67,1699.58 2563.9,1700.2 2565.13,1700.79 2566.37,1701.36 2567.6,1701.91 2568.83,1702.43 2570.07,1702.92 2571.3,1703.39 2572.53,1703.83 2573.77,1704.25 2575,1704.64 2576.23,1705.01 2577.47,1705.35 2578.7,1705.67 2579.93,1705.96 2581.17,1706.23 2582.4,1706.47 2583.63,1706.69 2584.87,1706.88 2586.1,1707.04 2587.33,1707.18 2588.57,1707.3 2589.8,1707.39 2591.03,1707.45 2592.27,1707.49 2593.5,1707.5 2594.73,1707.49 2595.97,1707.45 2597.2,1707.39 2598.43,1707.3 2599.67,1707.18 2600.9,1707.04 2602.13,1706.88 2603.37,1706.69 2604.6,1706.47 2605.83,1706.23 2607.07,1705.96 2608.3,1705.67 2609.53,1705.35 2610.77,1705.01 2612,1704.64 2613.23,1704.25 2614.47,1703.83 2615.7,1703.39 2616.93,1702.92 2618.17,1702.43 2619.4,1701.91 2620.63,1701.36 2621.87,1700.79 2623.1,1700.2 2624.33,1699.58 2625.57,1698.94 2626.8,1698.27 2628.03,1697.58 2629.27,1696.86 2630.5,1696.12 2631.73,1695.35 2632.97,1694.56 2634.2,1693.75 2635.43,1692.91 2636.67,1692.04 2637.9,1691.15 2639.13,1690.24 2640.37,1689.3 2641.6,1688.34 2642.83,1687.36 2644.07,1686.35 2645.3,1685.32 2646.53,1684.26 2647.77,1683.18 2649,1682.08 2650.23,1680.95 2651.47,1679.8 2652.7,1678.62 2653.93,1677.43 2655.17,1676.21 2656.4,1674.96 2657.63,1673.7 2658.87,1672.41 2660.1,1671.1 2661.33,1669.76 2662.57,1668.4 2663.8,1667.02 2665.03,1665.62 2666.27,1664.2 2667.5,1662.75 2668.73,1664.2 2669.97,1665.62 2671.2,1667.02 2672.43,1668.4 2673.67,1669.76 2674.9,1671.1 2676.13,1672.41 2677.37,1673.7 2678.6,1674.96 2679.83,1676.21 2681.07,1677.43 2682.3,1678.62 2683.53,1679.8 2684.77,1680.95 2686,1682.08 2687.23,1683.18 2688.47,1684.26 2689.7,1685.32 2690.93,1686.35 2692.17,1687.36 2693.4,1688.34 2694.63,1689.3 2695.87,1690.24 2697.1,1691.15 2698.33,1692.04 2699.57,1692.91 2700.8,1693.75 2702.03,1694.56 2703.27,1695.35 2704.5,1696.12 2705.73,1696.86 2706.97,1697.58 2708.2,1698.27 2709.43,1698.94 2710.67,1699.58 2711.9,1700.2 2713.13,1700.79 2714.37,1701.36 2715.6,1701.91 2716.83,1702.43 2718.07,1702.92 2719.3,1703.39 2720.53,1703.83 2721.77,1704.25 2723,1704.64 2724.23,1705.01 2725.47,1705.35 2726.7,1705.67 2727.93,1705.96 2729.17,1706.23 2730.4,1706.47 2731.63,1706.69 2732.87,1706.88 2734.1,1707.04 2735.33,1707.18 2736.57,1707.3 2737.8,1707.39 2739.03,1707.45 2740.27,1707.49 2741.5,1707.5 2742.73,1707.49 2743.97,1707.45 2745.2,1707.39 2746.43,1707.3 2747.67,1707.18 2748.9,1707.04 2750.13,1706.88 2751.37,1706.69 2752.6,1706.47 2753.83,1706.23 2755.07,1705.96 2756.3,1705.67 2757.53,1705.35 2758.77,1705.01 2760,1704.64 2761.23,1704.25 2762.47,1703.83 2763.7,1703.39 2764.93,1702.92 2766.17,1702.43 2767.4,1701.91 2768.63,1701.36 2769.87,1700.79 2771.1,1700.2 2772.33,1699.58 2773.57,1698.94 2774.8,1698.27 2776.03,1697.58 2777.27,1696.86 2778.5,1696.12 2779.73,1695.35 2780.97,1694.56 2782.2,1693.75 2783.43,1692.91 2784.67,1692.04 2785.9,1691.15 2787.13,1690.24 2788.37,1689.3 2789.6,1688.34 2790.83,1687.36 2792.07,1686.35 2793.3,1685.32 2794.53,1684.26 2795.77,1683.18 2797,1682.08 2798.23,1680.95 2799.47,1679.8 2800.7,1678.62 2801.93,1677.43 2803.17,1676.21 2804.4,1674.96 2805.63,1673.7 2806.87,1672.41 2808.1,1671.1 2809.33,1669.76 2810.57,1668.4 2811.8,1667.02 2813.03,1665.62 2814.27,1664.2 2815.5,1662.75 2816.74,1658.37 2817.98,1653.96 2819.22,1649.54 2820.47,1645.09 2821.71,1640.62 2822.95,1636.14 2824.19,1631.63 2825.43,1627.1 2826.68,1622.55 2827.92,1617.99 2829.16,1613.4 2830.4,1608.8 2831.64,1604.18 2832.88,1599.54 2834.12,1594.88 2835.37,1590.21 2836.61,1585.52 2837.85,1580.82 2839.09,1576.1 2840.33,1571.36 2841.57,1566.61 2842.82,1561.84 2844.06,1557.06 2845.3,1552.27 2846.54,1547.46 2847.78,1542.64 2849.03,1537.79 2850.27,1532.91 2851.51,1528.02 2852.75,1523.12 2853.99,1518.21 2855.23,1513.29 2856.47,1508.36 2857.72,1503.41 2858.96,1498.46 2860.2,1493.5 2861.44,1488.53 2862.68,1483.54 2863.93,1478.56 2865.17,1473.56 2866.41,1468.55 2867.65,1463.54 2868.89,1458.52 2870.13,1453.49 2871.38,1448.46 2872.62,1443.42 2873.86,1438.38 2875.1,1433.33 2876.34,1428.28 2877.58,1423.22 2878.82,1418.16 2880.07,1413.1 2881.31,1408.03 2882.55,1402.96 2883.79,1397.89 2885.03,1392.81 2886.28,1387.73 2887.52,1382.66 2888.76,1377.58 2890,1372.5 2891.24,1367.42 2892.48,1362.34 2893.72,1357.27 2894.97,1352.19 2896.21,1347.11 2897.45,1342.04 2898.69,1336.97 2899.93,1331.9 2901.18,1326.84 2902.42,1321.78 2903.66,1316.72 2904.9,1311.67 2906.14,1306.62 2907.38,1301.58 2908.62,1296.54 2909.87,1291.51 2911.11,1286.48 2912.35,1281.46 2913.59,1276.45 2914.83,1271.44 2916.07,1266.44 2917.32,1261.46 2918.56,1256.47 2919.8,1251.5 2921.04,1246.54 2922.28,1241.59 2923.53,1236.64 2924.77,1231.71 2926.01,1226.79 2927.25,1221.88 2928.49,1216.98 2929.73,1212.09 2930.97,1207.21 2932.22,1202.36 2933.46,1197.54 2934.7,1192.73 2935.94,1187.94 2937.18,1183.16 2938.43,1178.39 2939.67,1173.64 2940.91,1168.9 2942.15,1164.18 2943.39,1159.48 2944.63,1154.79 2945.88,1150.12 2947.12,1145.46 2948.36,1140.82 2949.6,1136.2 2950.84,1131.6 2952.08,1127.01 2953.32,1122.45 2954.57,1117.9 2955.81,1113.37 2957.05,1108.86 2958.29,1104.38 2959.53,1099.91 2960.78,1095.46 2962.02,1091.04 2963.26,1086.63 2964.5,1082.25 2965.73,1080.8 2966.97,1079.38 2968.2,1077.98 2969.43,1076.6 2970.67,1075.24 2971.9,1073.9 2973.13,1072.59 2974.37,1071.3 2975.6,1070.04 2976.83,1068.79 2978.07,1067.57 2979.3,1066.38 2980.53,1065.2 2981.77,1064.05 2983,1062.92 2984.23,1061.82 2985.47,1060.74 2986.7,1059.68 2987.93,1058.65 2989.17,1057.64 2990.4,1056.66 2991.63,1055.7 2992.87,1054.76 2994.1,1053.85 2995.33,1052.96 2996.57,1052.09 2997.8,1051.25 2999.03,1050.44 3000.27,1049.65 3001.5,1048.88 3002.73,1048.14 3003.97,1047.42 3005.2,1046.73 3006.43,1046.06 3007.67,1045.42 3008.9,1044.8 3010.13,1044.21 3011.37,1043.64 3012.6,1043.09 3013.83,1042.57 3015.07,1042.08 3016.3,1041.61 3017.53,1041.17 3018.77,1040.75 3020,1040.36 3021.23,1039.99 3022.47,1039.65 3023.7,1039.33 3024.93,1039.04 3026.17,1038.77 3027.4,1038.53 3028.63,1038.31 3029.87,1038.12 3031.1,1037.96 3032.33,1037.82 3033.57,1037.7 3034.8,1037.61 3036.03,1037.55 3037.27,1037.51 3038.5,1037.5 3039.73,1037.51 3040.97,1037.55 3042.2,1037.61 3043.43,1037.7 3044.67,1037.82 3045.9,1037.96 3047.13,1038.12 3048.37,1038.31 3049.6,1038.53 3050.83,1038.77 3052.07,1039.04 3053.3,1039.33 3054.53,1039.65 3055.77,1039.99 3057,1040.36 3058.23,1040.75 3059.47,1041.17 3060.7,1041.61 3061.93,1042.08 3063.17,1042.57 3064.4,1043.09 3065.63,1043.64 3066.87,1044.21 3068.1,1044.8 3069.33,1045.42 3070.57,1046.06 3071.8,1046.73 3073.03,1047.42 3074.27,1048.14 3075.5,1048.88 3076.73,1049.65 3077.97,1050.44 3079.2,1051.25 3080.43,1052.09 3081.67,1052.96 3082.9,1053.85 3084.13,1054.76 3085.37,1055.7 3086.6,1056.66 3087.83,1057.64 3089.07,1058.65 3090.3,1059.68 3091.53,1060.74 3092.77,1061.82 3094,1062.92 3095.23,1064.05 3096.47,1065.2 3097.7,1066.38 3098.93,1067.57 3100.17,1068.79 3101.4,1070.04 3102.63,1071.3 3103.87,1072.59 3105.1,1073.9 3106.33,1075.24 3107.57,1076.6 3108.8,1077.98 3110.03,1079.38 3111.27,1080.8 3112.5,1082.25 3113.73,1080.8 3114.97,1079.38 3116.2,1077.98 3117.43,1076.6 3118.67,1075.24 3119.9,1073.9 3121.13,1072.59 3122.37,1071.3 3123.6,1070.04 3124.83,1068.79 3126.07,1067.57 3127.3,1066.38 3128.53,1065.2 3129.77,1064.05 3131,1062.92 3132.23,1061.82 3133.47,1060.74 3134.7,1059.68 3135.93,1058.65 3137.17,1057.64 3138.4,1056.66 3139.63,1055.7 3140.87,1054.76 3142.1,1053.85 3143.33,1052.96 3144.57,1052.09 3145.8,1051.25 3147.03,1050.44 3148.27,1049.65 3149.5,1048.88 3150.73,1048.14 3151.97,1047.42 3153.2,1046.73 3154.43,1046.06 3155.67,1045.42 3156.9,1044.8 3158.13,1044.21 3159.37,1043.64 3160.6,1043.09 3161.83,1042.57 3163.07,1042.08 3164.3,1041.61 3165.53,1041.17 3166.77,1040.75 3168,1040.36 3169.23,1039.99 3170.47,1039.65 3171.7,1039.33 3172.93,1039.04 3174.17,1038.77 3175.4,1038.53 3176.63,1038.31 3177.87,1038.12 3179.1,1037.96 3180.33,1037.82 3181.57,1037.7 3182.8,1037.61 3184.03,1037.55 3185.27,1037.51 3186.5,1037.5 3187.73,1037.51 3188.97,1037.55 3190.2,1037.61 3191.43,1037.7 3192.67,1037.82 3193.9,1037.96 3195.13,1038.12 3196.37,1038.31 3197.6,1038.53 3198.83,1038.77 3200.07,1039.04 3201.3,1039.33 3202.53,1039.65 3203.77,1039.99 3205,1040.36 3206.23,1040.75 3207.47,1041.17 3208.7,1041.61 3209.93,1042.08 3211.17,1042.57 3212.4,1043.09 3213.63,1043.64 3214.87,1044.21 3216.1,1044.8 3217.33,1045.42 3218.57,1046.06 3219.8,1046.73 3221.03,1047.42 3222.27,1048.14 3223.5,1048.88 3224.73,1049.65 3225.97,1050.44 3227.2,1051.25 3228.43,1052.09 3229.67,1052.96 3230.9,1053.85 3232.13,1054.76 3233.37,1055.7 3234.6,1056.66 3235.83,1057.64 3237.07,1058.65 3238.3,1059.68 3239.53,1060.74 3240.77,1061.82 3242,1062.92 3243.23,1064.05 3244.47,1065.2 3245.7,1066.38 3246.93,1067.57 3248.17,1068.79 3249.4,1070.04 3250.63,1071.3 3251.87,1072.59 3253.1,1073.9 3254.33,1075.24 3255.57,1076.6 3256.8,1077.98 3258.03,1079.38 3259.27,1080.8 3260.5,1082.25 3261.73,1086.63 3262.97,1091.04 3264.2,1095.46 3265.43,1099.91 3266.67,1104.38 3267.9,1108.86 3269.13,1113.37 3270.37,1117.9 3271.6,1122.45 3272.83,1127.01 3274.07,1131.6 3275.3,1136.2 3276.53,1140.82 3277.77,1145.46 3279,1150.12 3280.23,1154.79 3281.47,1159.48 3282.7,1164.18 3283.93,1168.9 3285.17,1173.64 3286.4,1178.39 3287.63,1183.16 3288.87,1187.94 3290.1,1192.73 3291.33,1197.54 3292.57,1202.36 3293.8,1207.21 3295.03,1212.09 3296.27,1216.98 3297.5,1221.88 3298.73,1226.79 3299.97,1231.71 3301.2,1236.64 3302.43,1241.59 3303.67,1246.54 3304.9,1251.5 3306.13,1256.47 3307.37,1261.46 3308.6,1266.44 3309.83,1271.44 3311.07,1276.45 3312.3,1281.46 3313.53,1286.48 3314.77,1291.51 3316,1296.54 3317.23,1301.58 3318.47,1306.62 3319.7,1311.67 3320.93,1316.72 3322.17,1321.78 3323.4,1326.84 3324.63,1331.9 3325.87,1336.97 3327.1,1342.04 3328.33,1347.11 3329.57,1352.19 3330.8,1357.27 3332.03,1362.34 3333.27,1367.42 3334.5,1372.5 3335.73,1377.58 3336.97,1382.66 3338.2,1387.73 3339.43,1392.81 3340.67,1397.89 3341.9,1402.96 3343.13,1408.03 3344.37,1413.1 3345.6,1418.16 3346.83,1423.22 3348.07,1428.28 3349.3,1433.33 3350.53,1438.38 3351.77,1443.42 3353,1448.46 3354.23,1453.49 3355.47,1458.52 3356.7,1463.54 3357.93,1468.55 3359.17,1473.56 3360.4,1478.56 3361.63,1483.54 3362.87,1488.53 3364.1,1493.5 3365.33,1498.46 3366.57,1503.41 3367.8,1508.36 3369.03,1513.29 3370.27,1518.21 3371.5,1523.12 3372.73,1528.02 3373.97,1532.91 3375.2,1537.79 3376.43,1542.64 3377.67,1547.46 3378.9,1552.27 3380.13,1557.06 3381.37,1561.84 3382.6,1566.61 3383.83,1571.36 3385.07,1576.1 3386.3,1580.82 3387.53,1585.52 3388.77,1590.21 3390,1594.88 3391.23,1599.54 3392.47,1604.18 3393.7,1608.8 3394.93,1613.4 3396.17,1617.99 3397.4,1622.55 3398.63,1627.1 3399.87,1631.63 3401.1,1636.14 3402.33,1640.62 3403.57,1645.09 3404.8,1649.54 3406.03,1653.96 3407.27,1658.37 3408.5,1662.75" fill="none" stroke="#ff00ff" stroke-width="6.25" stroke-linejoin="round" stroke-linecap="butt"/>
<polyline points="2519.5,1082.25 2520.73,1080.8 2521.97,1079.38 2523.2,1077.98 2524.43,1076.6 2525.67,1075.24 2526.9,1073.9 2528.13,1072.59 2529.37,1071.3 2530.6,1070.04 2531.83,1068.79 2533.07,1067.57 2534.3,1066.38 2535.53,1065.2 2536.77,1064.05 2538,1062.92 2539.23,1061.82 2540.47,1060.74 2541.7,1059.68 2542.93,1058.65 2544.17,1057.64 2545.4,1056.66 2546.63,1055.7 2547.87,1054.76 2549.1,1053.85 2550.33,1052.96 2551.57,1052.09 2552.8,1051.25 2554.03,1050.44 2555.27,1049.65 2556.5,1048.88 2557.73,1048.14 2558.97,1047.42 2560.2,1046.73 2561.43,1046.06 2562.67,1045.42 2563.9,1044.8 2565.13,1044.21 2566.37,1043.64 2567.6,1043.09 2568.83,1042.57 2570.07,1042.08 2571.3,1041.61 2572.53,1041.17 2573.77,1040.75 2575,1040.36 2576.23,1039.99 2577.47,1039.65 2578.7,1039.33 2579.93,1039.04 2581.17,1038.77 2582.4,1038.53 2583.63,1038.31 2584.87,1038.12 2586.1,1037.96 2587.33,1037.82 2588.57,1037.7 2589.8,1037.61 2591.03,1037.55 2592.27,1037.51 2593.5,1037.5 2594.73,1037.51 2595.97,1037.55 2597.2,1037.61 2598.43,1037.7 2599.67,1037.82 2600.9,1037.96 2602.13,1038.12 2603.37,1038.31 2604.6,1038.53 2605.83,1038.77 2607.07,1039.04 2608.3,1039.33 2609.53,1039.65 2610.77,1039.99 2612,1040.36 2613.23,1040.75 2614.47,1041.17 2615.7,1041.61 2616.93,1042.08 2618.17,1042.57 2619.4,1043.09 2620.63,1043.64 2621.87,1044.21 2623.1,1044.8 2624.33,1045.42 2625.57,1046.06 2626.8,1046.73 2628.03,1047.42 2629.27,1048.14 2630.5,1048.88 2631.73,1049.65 2632.97,1050.44 2634.2,1051.25 2635.43,1052.09 2636.67,1052.96 2637.9,1053.85 2639.13,1054.76 2640.37,1055.7 2641.6,1056.66 2642.83,1057.64 2644.07,1058.65 2645.3,1059.68 2646.53,1060.74 2647.77,1061.82 2649,1062.92 2650.23,1064.05 2651.47,1065.2 2652.7,1066.38 2653.93,1067.57 2655.17,1068.79 2656.4,1070.04 2657.63,1071.3 2658.87,1072.59 2660.1,1073.9 2661.33,1075.24 2662.57,1076.6 2663.8,1077.98 2665.03,1079.38 2666.27,1080.8 2667.5,1082.25 2668.73,1086.63 2669.97,1091.04 2671.2,1095.46 2672.43,1099.91 2673.67,1104.38 2674.9,1108.86 2676.13,1113.37 2677.37,1117.9 2678.6,1122.45 2679.83,1127.01 2681.07,1131.6 2682.3,1136.2 2683.53,1140.82 2684.77,1145.46 2686,1150.12 2687.23,1154.79 2688.47,1159.48 2689.7,1164.18 2690.93,1168.9 2692.17,1173.64 2693.4,1178.39 2694.63,1183.16 2695.87,1187.94 2697.1,1192.73 2698.33,1197.54 2699.57,1202.36 2700.8,1207.21 2702.03,1212.09 2703.27,1216.98 2704.5,1221.88 2705.73,1226.79 2706.97,1231.71 2708.2,1236.64 2709.43,1241.59 2710.67,1246.54 2711.9,1251.5 2713.13,1256.47 2714.37,1261.46 2715.6,1266.44 2716.83,1271.44 2718.07,1276.45 2719.3,1281.46 2720.53,1286.48 2721.77,1291.51 2723,1296.54 2724.23,1301.58 2725.47,1306.62 2726.7,1311.67 2727.93,1316.72 2729.17,1321.78 2730.4,1326.84 2731.63,1331.9 2732.87,1336.97 2734.1,1342.04 2735.33,1347.11 2736.57,1352.19 2737.8,1357.27 2739.03,1362.34 2740.27,1367.42 2741.5,1372.5 2742.73,1377.58 2743.97,1382.66 2745.2,1387.73 2746.43,1392.81 2747.67,1397.89 2748.9,1402.96 2750.13,1408.03 2751.37,1413.1 2752.6,1418.16 2753.83,1423.22 2755.07,1428.28 2756.3,1433.33 2757.53,1438.38 2758.77,1443.42 2760,1448.46 2761.23,1453.49 2762.47,1458.52 2763.7,1463.54 2764.93,1468.55 2766.17,1473.56 2767.4,1478.56 2768.63,1483.54 2769.87,1488.53 2771.1,1493.5 2772.33,1498.46 2773.57,1503.41 2774.8,1508.36 2776.03,1513.29 2777.27,1518.21 2778.5,1523.12 2779.73,1528.02 2780.97,1532.91 2782.2,1537.79 2783.43,1542.64 2784.67,1547.46 2785.9,1552.27 2787.13,1557.06 2788.37,1561.84 2789.6,1566.61 2790.83,1571.36 2792.07,1576.1 2793.3,1580.82 2794.53,1585.52 2795.77,1590.21 2797,1594.88 2798.23,1599.54 2799.47,1604.18 2800.7,1608.8 2801.93,1613.4 2803.17,1617.99 2804.4,1622.55 2805.63,1627.1 2806.87,1631.63 2808.1,1636.14 2809.33,1640.62 2810.57,1645.09 2811.8,1649.54 2813.03,1653.96 2814.27,1658.37 2815.5,1662.75 2816.74,1664.2 2817.98,1665.62 2819.22,1667.02 2820.47,1668.4 2821.71,1669.76 2822.95,1671.1 2824.19,1672.41 2825.43,1673.7 2826.68,1674.96 2827.92,1676.21 2829.16,1677.43 2830.4,1678.62 2831.64,1679.8 2832.88,1680.95 2834.12,1682.08 2835.37,1683.18 2836.61,1684.26 2837.85,1685.32 2839.09,1686.35 2840.33,1687.36 2841.57,1688.34 2842.82,1689.3 2844.06,1690.24 2845.3,1691.15 2846.54,1692.04 2847.78,1692.91 2849.03,1693.75 2850.27,1694.56 2851.51,1695.35 2852.75,1696.12 2853.99,1696.86 2855.23,1697.58 2856.47,1698.27 2857.72,1698.94 2858.96,1699.58 2860.2,1700.2 2861.44,1700.79 2862.68,1701.36 2863.93,1701.91 2865.17,1702.43 2866.41,1702.92 2867.65,1703.39 2868.89,1703.83 2870.13,1704.25 2871.38,1704.64 2872.62,1705.01 2873.86,1705.35 2875.1,1705.67 2876.34,1705.96 2877.58,1706.23 2878.82,1706.47 2880.07,1706.69 2881.31,1706.88 2882.55,1707.04 2883.79,1707.18 2885.03,1707.3 2886.28,1707.39 2887.52,1707.45 2888.76,1707.49 2890,1707.5 2891.24,1707.49 2892.48,1707.45 2893.72,1707.39 2894.97,1707.3 2896.21,1707.18 2897.45,1707.04 2898.69,1706.88 2899.93,1706.69 2901.18,1706.47 2902.42,1706.23 2903.66,1705.96 2904.9,1705.67 2906.14,1705.35 2907.38,1705.01 2908.62,1704.64 2909.87,1704.25 2911.11,1703.83 2912.35,1703.39 2913.59,1702.92 2914.83,1702.43 2916.07,1701.91 2917.32,1701.36 2918.56,1700.79 2919.8,1700.2 2921.04,1699.58 2922.28,1698.94 2923.53,1698.27 2924.77,1697.58 2926.01,1696.86 2927.25,1696.12 2928.49,1695.35 2929.73,1694.56 2930.97,1693.75 2932.22,1692.91 2933.46,1692.04 2934.7,1691.15 2935.94,1690.24 2937.18,1689.3 2938.43,1688.34 2939.67,1687.36 2940.91,1686.35 2942.15,1685.32 2943.39,1684.26 2944.63,1683.18 2945.88,1682.08 2947.12,1680.95 2948.36,1679.8 2949.6,1678.62 2950.84,1677.43 2952.08,1676.21 2953.32,1674.96 2954.57,1673.7 2955.81,1672.41 2957.05,1671.1 2958.29,1669.76 2959.53,1668.4 2960.78,1667.02 2962.02,1665.62 2963.26,1664.2 2964.5,1662.75 2965.73,1664.2 2966.97,1665.62 2968.2,1667.02 2969.43,1668.4 2970.67,1669.76 2971.9,1671.1 2973.13,1672.41 2974.37,1673.7 2975.6,1674.96 2976.83,1676.21 2978.07,1677.43 2979.3,1678.62 2980.53,1679.8 2981.77,1680.95 2983,1682.08 2984.23,1683.18 2985.47,1684.26 2986.7,1685.32 2987.93,1686.35 2989.17,1687.36 2990.4,1688.34 2991.63,1689.3 2992.87,1690.24 2994.1,1691.15 2995.33,1692.04 2996.57,1692.91 2997.8,1693.75 2999.03,1694.56 3000.27,1695.35 3001.5,1696.12 3002.73,1696.86 3003.97,1697.58 3005.2,1698.27 3006.43,1698.94 3007.67,1699.58 3008.9,1700.2 3010.13,1700.79 3011.37,1701.36 3012.6,1701.91 3013.83,1702.43 3015.07,1702.92 3016.3,1703.39 3017.53,1703.83 3018.77,1704.25 3020,1704.64 3021.23,1705.01 3022.47,1705.35 3023.7,1705.67 3024.93,1705.96 3026.17,1706.23 3027.4,1706.47 3028.63,1706.69 3029.87,1706.88 3031.1,1707.04 3032.33,1707.18 3033.57,1707.3 3034.8,1707.39 3036.03,1707.45 3037.27,1707.49 3038.5,1707.5 3039.73,1707.49 3040.97,1707.45 3042.2,1707.39 3043.43,1707.3 3044.67,1707.18 3045.9,1707.04 3047.13,1706.88 3048.37,1706.69 3049.6,1706.47 3050.83,1706.23 3052.07,1705.96 3053.3,1705.67 3054.53,1705.35 3055.77,1705.01 3057,1704.64 3058.23,1704.25 3059.47,1703.83 3060.7,1703.39 3061.93,1702.92 3063.17,1702.43 3064.4,1701.91 3065.63,1701.36 3066.87,1700.79 3068.1,1700.2 3069.33,1699.58 3070.57,1698.94 3071.8,1698.27 3073.03,1697.58 3074.27,1696.86 3075.5,1696.12 3076.73,1695.35 3077.97,1694.56 3079.2,1693.75 3080.43,1692.91 3081.67,1692.04 3082.9,1691.15 3084.13,1690.24 3085.37,1689.3 3086.6,1688.34 3087.83,1687.36 3089.07,1686.35 3090.3,1685.32 3091.53,1684.26 3092.77,1683.18 3094,1682.08 3095.23,1680.95 3096.47,1679.8 3097.7,1678.62 3098.93,1677.43 3100.17,1676.21 3101.4,1674.96 3102.63,1673.7 3103.87,1672.41 3105.1,1671.1 3106.33,1669.76 3107.57,1668.4 3108.8,1667.02 3110.03,1665.62 3111.27,1664.2 3112.5,1662.75 3113.73,1658.37 3114.97,1653.96 3116.2,1649.54 3117.43,1645.09 3118.67,1640.62 3119.9,1636.14 3121.13,1631.63 3122.37,1627.1 3123.6,1622.55 3124.83,1617.99 3126.07,1613.4 3127.3,1608.8 3128.53,1604.18 3129.77,1599.54 3131,1594.88 3132.23,1590.21 3133.47,1585.52 3134.7,1580.82 3135.93,1576.1 3137.17,1571.36 3138.4,1566.61 3139.63,1561.84 3140.87,1557.06 3142.1,1552.27 3143.33,1547.46 3144.57,1542.64 3145.8,1537.79 3147.03,1532.91 3148.27,1528.02 3149.5,1523.12 3150.73,1518.21 3151.97,1513.29 3153.2,1508.36 3154.43,1503.41 3155.67,1498.46 3156.9,1493.5 3158.13,1488.53 3159.37,1483.54 3160.6,1478.56 3161.83,1473.56 3163.07,1468.55 3164.3,1463.54 3165.53,1458.52 3166.77,1453.49 3168,1448.46 3169.23,1443.42 3170.47,1438.38 3171.7,1433.33 3172.93,1428.28 3174.17,1423.22 3175.4,1418.16 3176.63,1413.1 3177.87,1408.03 3179.1,1402.96 3180.33,1397.89 3181.57,1392.81 3182.8,1387.73 3184.03,1382.66 3185.27,1377.58 3186.5,1372.5 3187.73,1367.42 3188.97,1362.34 3190.2,1357.27 3191.43,1352.19 3192.67,1347.11 3193.9,1342.04 3195.13,1336.97 3196.37,1331.9 3197.6,1326.84 3198.83,1321.78 3200.07,1316.72 3201.3,1311.67 3202.53,1306.62 3203.77,1301.58 3205,1296.54 3206.23,1291.51 3207.47,1286.48 3208.7,1281.46 3209.93,1276.45 3211.17,1271.44 3212.4,1266.44 3213.63,1261.46 3214.87,1256.47 3216.1,1251.5 3217.33,1246.54 3218.57,1241.59 3219.8,1236.64 3221.03,1231.71 3222.27,1226.79 3223.5,1221.88 3224.73,1216.98 3225.97,1212.09 3227.2,1207.21 3228.43,1202.36 3229.67,1197.54 3230.9,1192.73 3232.13,1187.94 3233.37,1183.16 3234.6,1178.39 3235.83,1173.64 3237.07,1168.9 3238.3,1164.18 3239.53,1159.48 3240.77,1154.79 3242,1150.12 3243.23,1145.46 3244.47,1140.82 3245.7,1136.2 3246.93,1131.6 3248.17,1127.01 3249.4,1122.45 3250.63,1117.9 3251.87,1113.37 3253.1,1108.86 3254.33,1104.38 3255.57,1099.91 3256.8,1095.46 3258.03,1091.04 3259.27,1086.63 3260.5,1082.25 3261.73,1080.8 3262.97,1079.38 3264.2,1077.98 3265.43,1076.6 3266.67,1075.24 3267.9,1073.9 3269.13,1072.59 3270.37,1071.3 3271.6,1070.04 3272.83,1068.79 3274.07,1067.57 3275.3,1066.38 3276.53,1065.2 3277.77,1064.05 3279,1062.92 3280.23,1061.82 3281.47,1060.74 3282.7,1059.68 3283.93,1058.65 3285.17,1057.64 3286.4,1056.66 3287.63,1055.7 3288.87,1054.76 3290.1,1053.85 3291.33,1052.96 3292.57,1052.09 3293.8,1051.25 3295.03,1050.44 3296.27,1049.65 3297.5,1048.88 3298.73,1048.14 3299.97,1047.42 3301.2,1046.73 3302.43,1046.06 3303.67,1045.42 3304.9,1044.8 3306.13,1044.21 3307.37,1043.64 3308.6,1043.09 3309.83,1042.57 3311.07,1042.08 3312.3,1041.61 3313.53,1041.17 3314.77,1040.75 3316,1040.36 3317.23,1039.99 3318.47,1039.65 3319.7,1039.33 3320.93,1039.04 3322.17,1038.77 3323.4,1038.53 3324.63,1038.31 3325.87,1038.12 3327.1,1037.96 3328.33,1037.82 3329.57,1037.7 3330.8,1037.61 3332.03,1037.55 3333.27,1037.51 3334.5,1037.5 3335.73,1037.51 3336.97,1037.55 3338.2,1037.61 3339.43,1037.7 3340.67,1037.82 3341.9,1037.96 3343.13,1038.12 3344.37,1038.31 3345.6,1038.53 3346.83,1038.77 3348.07,1039.04 3349.3,1039.33 3350.53,1039.65 3351.77,1039.99 3353,1040.36 3354.23,1040.75 3355.47,1041.17 3356.7,1041.61 3357.93,1042.08 3359.17,1042.57 3360.4,1043.09 3361.63,1043.64 3362.87,1044.21 3364.1,1044.8 3365.33,1045.42 3366.57,1046.06 3367.8,1046.73 3369.03,1047.42 3370.27,1048.14 3371.5,1048.88 3372.73,1049.65 3373.97,1050.44 3375.2,1051.25 3376.43,1052.09 3377.67,1052.96 3378.9,1053.85 3380.13,1054.76 3381.37,1055.7 3382.6,1056.66 3383.83,1057.64 3385.07,1058.65 3386.3,1059.68 3387.53,1060.74 3388.77,1061.82 3390,1062.92 3391.23,1064.05 3392.47,1065.2 3393.7,1066.38 3394.93,1067.57 3396.17,1068.79 3397.4,1070.04 3398.63,1071.3 3399.87,1072.59 3401.1,1073.9 3402.33,1075.24 3403.57,1076.6 3404.8,1077.98 3406.03,1079.38 3407.27,1080.8 3408.5,1082.25" fill="none" stroke="#00ff00" stroke-width="6.25" stroke-linejoin="round" stroke-linecap="butt"/>
<polyline points="2519.5,1662.75 2520.73,1658.37 2521.97,1653.96 2523.2,1649.54 2524.43,1645.09 2525.67,1640.62 2526.9,1636.14 2528.13,1631.63 2529.37,1627.1 2530.6,1622.55 2531.83,1617.99 2533.07,1613.4 2534.3,1608.8 2535.53,1604.18 2536.77,1599.54 2538,1594.88 2539.23,1590.21 2540.47,1585.52 2541.7,1580.82 2542.93,1576.1 2544.17,1571.36 2545.4,1566.61 2546.63,1561.84 2547.87,1557.06 2549.1,1552.27 2550.33,1547.46 2551.57,1542.64 2552.8,1537.79 2554.03,1532.91 2555.27,1528.02 2556.5,1523.12 2557.73,1518.21 2558.97,1513.29 2560.2,1508.36 2561.43,1503.41 2562.67,1498.46 2563.9,1493.5 2565.13,1488.53 2566.37,1483.54 2567.6,1478.56 2568.83,1473.56 2570.07,1468.55 2571.3,1463.54 2572.53,1458.52 2573.77,1453.49 2575,1448.46 2576.23,1443.42 2577.47,1438.38 2578.7,1433.33 2579.93,1428.28 2581.17,1423.22 2582.4,1418.16 2583.63,1413.1 2584.87,1408.03 2586.1,1402.96 2587.33,1397.89 2588.57,1392.81 2589.8,1387.73 2591.03,1382.66 2592.27,1377.58 2593.5,1372.5 2594.73,1367.42 2595.97,1362.34 2597.2,1357.27 2598.43,1352.19 2599.67,1347.11 2600.9,1342.04 2602.13,1336.97 2603.37,1331.9 2604.6,1326.84 2605.83,1321.78 2607.07,1316.72 2608.3,1311.67 2609.53,1306.62 2610.77,1301.58 2612,1296.54 2613.23,1291.51 2614.47,1286.48 2615.7,1281.46 2616.93,1276.45 2618.17,1271.44 2619.4,1266.44 2620.63,1261.46 2621.87,1256.47 2623.1,1251.5 2624.33,1246.54 2625.57,1241.59 2626.8,1236.64 2628.03,1231.71 2629.27,1226.79 2630.5,1221.88 2631.73,1216.98 2632.97,1212.09 2634.2,1207.21 2635.43,1202.36 2636.67,1197.54 2637.9,1192.73 2639.13,1187.94 2640.37,1183.16 2641.6,1178.39 2642.83,1173.64 2644.07,1168.9 2645.3,1164.18 2646.53,1159.48 2647.77,1154.79 2649,1150.12 2650.23,1145.46 2651.47,1140.82 2652.7,1136.2 2653.93,1131.6 2655.17,1127.01 2656.4,1122.45 2657.63,1117.9 2658.87,1113.37 2660.1,1108.86 2661.33,1104.38 2662.57,1099.91 2663.8,1095.46 2665.03,1091.04 2666.27,1086.63 2667.5,1082.25 2668.73,1080.8 2669.97,1079.38 2671.2,1077.98 2672.43,1076.6 2673.67,1075.24 2674.9,1073.9 2676.13,1072.59 2677.37,1071.3 2678.6,1070.04 2679.83,1068.79 2681.07,1067.57 2682.3,1066.38 2683.53,1065.2 2684.77,1064.05 2686,1062.92 2687.23,1061.82 2688.47,1060.74 2689.7,1059.68 2690.93,1058.65 2692.17,1057.64 2693.4,1056.66 2694.63,1055.7 2695.87,1054.76 2697.1,1053.85 2698.33,1052.96 2699.57,1052.09 2700.8,1051.25 2702.03,1050.44 2703.27,1049.65 2704.5,1048.88 2705.73,1048.14 2706.97,1047.42 2708.2,1046.73 2709.43,1046.06 2710.67,1045.42 2711.9,1044.8 2713.13,1044.21 2714.37,1043.64 2715.6,1043.09 2716.83,1042.57 2718.07,1042.08 2719.3,1041.61 2720.53,1041.17 2721.77,1040.75 2723,1040.36 2724.23,1039.99 2725.47,1039.65 2726.7,1039.33 2727.93,1039.04 2729.17,1038.77 2730.4,1038.53 2731.63,1038.31 2732.87,1038.12 2734.1,1037.96 2735.33,1037.82 2736.57,1037.7 2737.8,1037.61 2739.03,1037.55 2740.27,1037.51 2741.5,1037.5 2742.73,1037.51 2743.97,1037.55 2745.2,1037.61 2746.43,1037.7 2747.67,1037.82 2748.9,1037.96 2750.13,1038.12 2751.37,1038.31 2752.6,1038.53 2753.83,1038.77 2755.07,1039.04 2756.3,1039.33 2757.53,1039.65 2758.77,1039.99 2760,1040.36 2761.23,1040.75 2762.47,1041.17 2763.7,1041.61 2764.93,1042.08 2766.17,1042.57 2767.4,1043.09 2768.63,1043.64 2769.87,1044.21 2771.1,1044.8 2772.33,1045.42 2773.57,1046.06 2774.8,1046.73 2776.03,1047.42 2777.27,1048.14 2778.5,1048.88 2779.73,1049.65 2780.97,1050.44 2782.2,1051.25 2783.43,1052.09 2784.67,1052.96 2785.9,1053.85 2787.13,1054.76 2788.37,1055.7 2789.6,1056.66 2790.83,1057.64 2792.07,1058.65 2793.3,1059.68 2794.53,1060.74 2795.77,1061.82 2797,1062.92 2798.23,1064.05 2799.47,1065.2 2800.7,1066.38 2801.93,1067.57 2803.17,1068.79 2804.4,1070.04 2805.63,1071.3 2806.87,1072.59 2808.1,1073.9 2809.33,1075.24 2810.57,1076.6 2811.8,1077.98 2813.03,1079.38 2814.27,1080.8 2815.5,1082.25 2816.74,1080.8 2817.98,1079.38 2819.22,1077.98 2820.47,1076.6 2821.71,1075.24 2822.95,1073.9 2824.19,1072.59 2825.43,1071.3 2826.68,1070.04 2827.92,1068.79 2829.16,1067.57 2830.4,1066.38 2831.64,1065.2 2832.88,1064.05 2834.12,1062.92 2835.37,1061.82 2836.61,1060.74 2837.85,1059.68 2839.09,1058.65 2840.33,1057.64 2841.57,1056.66 2842.82,1055.7 2844.06,1054.76 2845.3,1053.85 2846.54,1052.96 2847.78,1052.09 2849.03,1051.25 2850.27,1050.44 2851.51,1049.65 2852.75,1048.88 2853.99,1048.14 2855.23,1047.42 2856.47,1046.73 2857.72,1046.06 2858.96,1045.42 2860.2,1044.8 2861.44,1044.21 2862.68,1043.64 2863.93,1043.09 2865.17,1042.57 2866.41,1042.08 2867.65,1041.61 2868.89,1041.17 2870.13,1040.75 2871.38,1040.36 2872.62,1039.99 2873.86,1039.65 2875.1,1039.33 2876.34,1039.04 2877.58,1038.77 2878.82,1038.53 2880.07,1038.31 2881.31,1038.12 2882.55,1037.96 2883.79,1037.82 2885.03,1037.7 2886.28,1037.61 2887.52,1037.55 2888.76,1037.51 2890,1037.5 2891.24,1037.51 2892.48,1037.55 2893.72,1037.61 2894.97,1037.7 2896.21,1037.82 2897.45,1037.96 2898.69,1038.12 2899.93,1038.31 2901.18,1038.53 2902.42,1038.77 2903.66,1039.04 2904.9,1039.33 2906.14,1039.65 2907.38,1039.99 2908.62,1040.36 2909.87,1040.75 2911.11,1041.17 2912.35,1041.61 2913.59,1042.08 2914.83,1042.57 2916.07,1043.09 2917.32,1043.64 2918.56,1044.21 2919.8,1044.8 2921.04,1045.42 2922.28,1046.06 2923.53,1046.73 2924.77,1047.42 2926.01,1048.14 2927.25,1048.88 2928.49,1049.65 2929.73,1050.44 2930.97,1051.25 2932.22,1052.09 2933.46,1052.96 2934.7,1053.85 2935.94,1054.76 2937.18,1055.7 2938.43,1056.66 2939.67,1057.64 2940.91,1058.65 2942.15,1059.68 2943.39,1060.74 2944.63,1061.82 2945.88,1062.92 2947.12,1064.05 2948.36,1065.2 2949.6,1066.38 2950.84,1067.57 2952.08,1068.79 2953.32,1070.04 2954.57,1071.3 2955.81,1072.59 2957.05,1073.9 2958.29,1075.24 2959.53,1076.6 2960.78,1077.98 2962.02,1079.38 2963.26,1080.8 2964.5,1082.25 2965.73,1086.63 2966.97,1091.04 2968.2,1095.46 2969.43,1099.91 2970.67,1104.38 2971.9,1108.86 2973.13,1113.37 2974.37,1117.9 2975.6,1122.45 2976.83,1127.01 2978.07,1131.6 2979.3,1136.2 2980.53,1140.82 2981.77,1145.46 2983,1150.12 2984.23,1154.79 2985.47,1159.48 2986.7,1164.18 2987.93,1168.9 2989.17,1173.64 2990.4,1178.39 2991.63,1183.16 2992.87,1187.94 2994.1,1192.73 2995.33,1197.54 2996.57,1202.36 2997.8,1207.21 2999.03,1212.09 3000.27,1216.98 3001.5,1221.88 3002.73,1226.79 3003.97,1231.71 3005.2,1236.64 3006.43,1241.59 3007.67,1246.54 3008.9,1251.5 3010.13,1256.47 3011.37,1261.46 3012.6,1266.44 3013.83,1271.44 3015.07,1276.45 3016.3,1281.46 3017.53,1286.48 3018.77,1291.51 3020,1296.54 3021.23,1301.58 3022.47,1306.62 3023.7,1311.67 3024.93,1316.72 3026.17,1321.78 3027.4,1326.84 3028.63,1331.9 3029.87,1336.97 3031.1,1342.04 3032.33,1347.11 3033.57,1352.19 3034.8,1357.27 3036.03,1362.34 3037.27,1367.42 3038.5,1372.5 3039.73,1377.58 3040.97,1382.66 3042.2,1387.73 3043.43,1392.81 3044.67,1397.89 3045.9,1402.96 3047.13,1408.03 3048.37,1413.1 3049.6,1418.16 3050.83,1423.22 3052.07,1428.28 3053.3,1433.33 3054.53,1438.38 3055.77,1443.42 3057,1448.46 3058.23,1453.49 3059.47,1458.52 3060.7,1463.54 3061.93,1468.55 3063.17,1473.56 3064.4,1478.56 3065.63,1483.54 3066.87,1488.53 3068.1,1493.5 3069.33,1498.46 3070.57,1503.41 3071.8,1508.36 3073.03,1513.29 3074.27,1518.21 3075.5,1523.12 3076.73,1528.02 3077.97,1532.91 3079.2,1537.79 3080.43,1542.64 3081.67,1547.46 3082.9,1552.27 3084.13,1557.06 3085.37,1561.84 3086.6,1566.61 3087.83,1571.36 3089.07,1576.1 3090.3,1580.82 3091.53,1585.52 3092.77,1590.21 3094,1594.88 3095.23,1599.54 3096.47,1604.18 3097.7,1608.8 3098.93,1613.4 3100.17,1617.99 3101.4,1622.55 3102.63,1627.1 3103.87,1631.63 3105.1,1636.14 3106.33,1640.62 3107.57,1645.09 3108.8,1649.54 3110.03,1653.96 3111.27,1658.37 3112.5,1662.75 3113.73,1664.2 3114.97,1665.62 3116.2,1667.02 3117.43,1668.4 3118.67,1669.76 3119.9,1671.1 3121.13,1672.41 3122.37,1673.7 3123.6,1674.96 3124.83,1676.21 3126.07,1677.43 3127.3,1678.62 3128.53,1679.8 3129.77,1680.95 3131,1682.08 3132.23,1683.18 3133.47,1684.26 3134.7,1685.32 3135.93,1686.35 3137.17,1687.36 3138.4,1688.34 3139.63,1689.3 3140.87,1690.24 3142.1,1691.15 3143.33,1692.04 3144.57,1692.91 3145.8,1693.75 3147.03,1694.56 3148.27,1695.35 3149.5,1696.12 3150.73,1696.86 3151.97,1697.58 3153.2,1698.27 3154.43,1698.94 3155.67,1699.58 3156.9,1700.2 3158.13,1700.79 3159.37,1701.36 3160.6,1701.91 3161.83,1702.43 3163.07,1702.92 3164.3,1703.39 3165.53,1703.83 3166.77,1704.25 3168,1704.64 3169.23,1705.01 3170.47,1705.35 3171.7,1705.67 3172.93,1705.96 3174.17,1706.23 3175.4,1706.47 3176.63,1706.69 3177.87,1706.88 3179.1,1707.04 3180.33,1707.18 3181.57,1707.3 3182.8,1707.39 3184.03,1707.45 3185.27,1707.49 3186.5,1707.5 3187.73,1707.49 3188.97,1707.45 3190.2,1707.39 3191.43,1707.3 3192.67,1707.18 3193.9,1707.04 3195.13,1706.88 3196.37,1706.69 3197.6,1706.47 3198.83,1706.23 3200.07,1705.96 3201.3,1705.67 3202.53,1705.35 3203.77,1705.01 3205,1704.64 3206.23,1704.25 3207.47,1703.83 3208.7,1703.39 3209.93,1702.92 3211.17,1702.43 3212.4,1701.91 3213.63,1701.36 3214.87,1700.79 3216.1,1700.2 3217.33,1699.58 3218.57,1698.94 3219.8,1698.27 3221.03,1697.58 3222.27,1696.86 3223.5,1696.12 3224.73,1695.35 3225.97,1694.56 3227.2,1693.75 3228.43,1692.91 3229.67,1692.04 3230.9,1691.15 3232.13,1690.24 3233.37,1689.3 3234.6,1688.34 3235.83,1687.36 3237.07,1686.35 3238.3,1685.32 3239.53,1684.26 3240.77,1683.18 3242,1682.08 3243.23,1680.95 3244.47,1679.8 3245.7,1678.62 3246.93,1677.43 3248.17,1676.21 3249.4,1674.96 3250.63,1673.7 3251.87,1672.41 3253.1,1671.1 3254.33,1669.76 3255.57,1668.4 3256.8,1667.02 3258.03,1665.62 3259.27,1664.2 3260.5,1662.75 3261.73,1664.2 3262.97,1665.62 3264.2,1667.02 3265.43,1668.4 3266.67,1669.76 3267.9,1671.1 3269.13,1672.41 3270.37,1673.7 3271.6,1674.96 3272.83,1676.21 3274.07,1677.43 3275.3,1678.62 3276.53,1679.8 3277.77,1680.95 3279,1682.08 3280.23,1683.18 3281.47,1684.26 3282.7,1685.32 3283.93,1686.35 3285.17,1687.36 3286.4,1688.34 3287.63,1689.3 3288.87,1690.24 3290.1,1691.15 3291.33,1692.04 3292.57,1692.91 3293.8,1693.75 3295.03,1694.56 3296.27,1695.35 3297.5,1696.12 3298.73,1696.86 3299.97,1697.58 3301.2,1698.27 3302.43,1698.94 3303.67,1699.58 3304.9,1700.2 3306.13,1700.79 3307.37,1701.36 3308.6,1701.91 3309.83,1702.43 3311.07,1702.92 3312.3,1703.39 3313.53,1703.83 3314.77,1704.25 3316,1704.64 3317.23,1705.01 3318.47,1705.35 3319.7,1705.67 3320.93,1705.96 3322.17,1706.23 3323.4,1706.47 3324.63,1706.69 3325.87,1706.88 3327.1,1707.04 3328.33,1707.18 3329.57,1707.3 3330.8,1707.39 3332.03,1707.45 3333.27,1707.49 3334.5,1707.5 3335.73,1707.49 3336.97,1707.45 3338.2,1707.39 3339.43,1707.3 3340.67,1707.18 3341.9,1707.04 3343.13,1706.88 3344.37,1706.69 3345.6,1706.47 3346.83,1706.23 3348.07,1705.96 3349.3,1705.67 3350.53,1705.35 3351.77,1705.01 3353,1704.64 3354.23,1704.25 3355.47,1703.83 3356.7,1703.39 3357.93,1702.92 3359.17,1702.43 3360.4,1701.91 3361.63,1701.36 3362.87,1700.79 3364.1,1700.2 3365.33,1699.58 3366.57,1698.94 3367.8,1698.27 3369.03,1697.58 3370.27,1696.86 3371.5,1696.12 3372.73,1695.35 3373.97,1694.56 3375.2,1693.75 3376.43,1692.91 3377.67,1692.04 3378.9,1691.15 3380.13,1690.24 3381.37,1689.3 3382.6,1688.34 3383.83,1687.36 3385.07,1686.35 3386.3,1685.32 3387.53,1684.26 3388.77,1683.18 3390,1682.08 3391.23,1680.95 3392.47,1679.8 3393.7,1678.62 3394.93,1677.43 3396.17,1676.21 3397.4,1674.96 3398.63,1673.7 3399.87,1672.41 3401.1,1671.1 3402.33,1669.76 3403.57,1668.4 3404.8,1667.02 3406.03,1665.62 3407.27,1664.2 3408.5,1662.75" fill="none" stroke="#0000ff" stroke-width="6.25" stroke-linejoin="round" stroke-linecap="butt"/>
</svg>
</body></html>
